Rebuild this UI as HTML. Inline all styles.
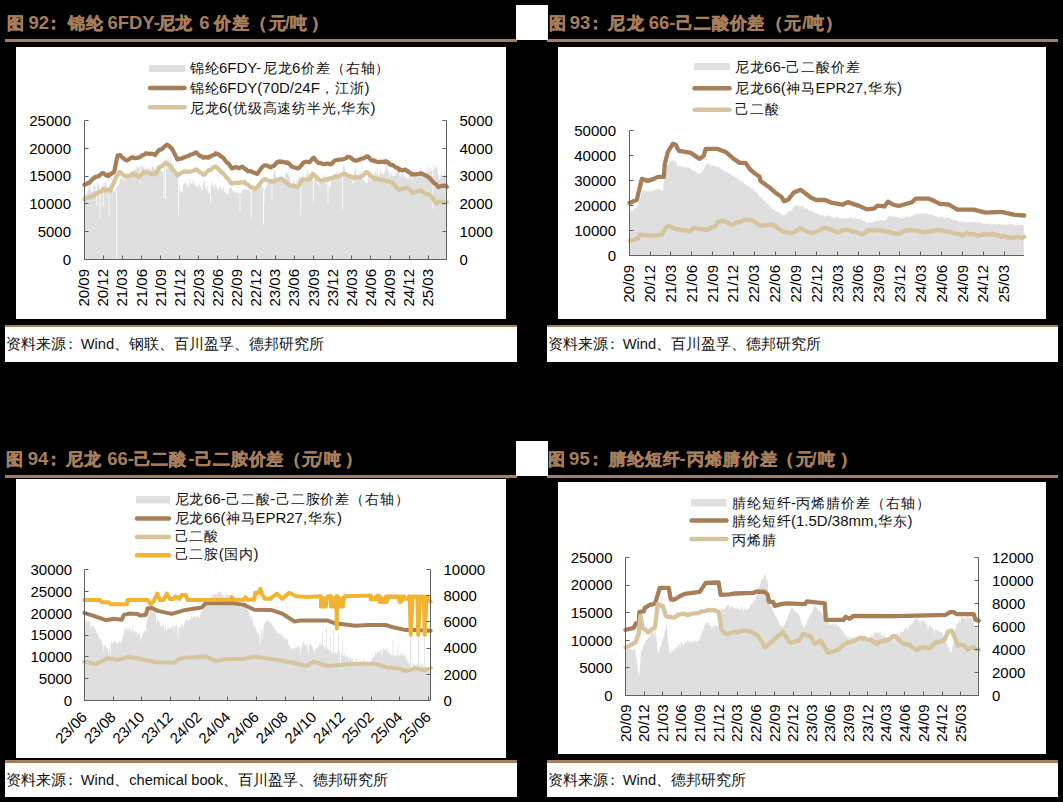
<!DOCTYPE html>
<html><head><meta charset="utf-8">
<style>
html,body{margin:0;padding:0;}
body{width:1063px;height:802px;background:#000;position:relative;overflow:hidden;font-family:"Liberation Sans",sans-serif;}
.w{position:absolute;background:#fff;}
.ul{position:absolute;background:#a77e5b;height:3px;}
.src{position:absolute;background:#fff;border-top:2px solid #a77e5b;box-sizing:border-box;}
svg{position:absolute;left:0;top:0;}
.ax{font-size:15px;fill:#000;font-family:"Liberation Sans",sans-serif;}
.lg{font-size:15px;fill:#111;font-family:"Liberation Sans",sans-serif;}
.lg .c{font-size:14px;}
.ttl{font-size:18.5px;font-weight:bold;fill:#a77e5b;font-family:"Liberation Sans",sans-serif;}
.ttl .c{font-size:17px;stroke:#a77e5b;stroke-width:0.5px;}
.srt{font-size:14.7px;fill:#111;font-family:"Liberation Sans",sans-serif;}
.srt .c{font-size:15px;}
</style></head><body>
<div class="ul" style="left:5px;top:39px;width:512px"></div>
<div class="ul" style="left:547px;top:39px;width:511px"></div>
<div class="ul" style="left:5px;top:475px;width:512px"></div>
<div class="ul" style="left:547px;top:475px;width:511px"></div>
<div class="w" style="left:516px;top:5px;width:32px;height:35px"></div>
<div class="w" style="left:516px;top:441px;width:32px;height:35px"></div>
<div class="w" style="left:16px;top:47px;width:490px;height:272px"></div>
<div class="w" style="left:558px;top:47px;width:488px;height:272px"></div>
<div class="w" style="left:16px;top:479px;width:490px;height:279px"></div>
<div class="w" style="left:558px;top:482px;width:488px;height:272px"></div>
<div class="src" style="left:5px;top:325px;width:512px;height:37px;border-top-width:2px"></div>
<div class="src" style="left:547px;top:325px;width:511px;height:37px;border-top-width:2px"></div>
<div class="src" style="left:5px;top:760px;width:512px;height:37px;border-top-width:3px"></div>
<div class="src" style="left:547px;top:760px;width:511px;height:37px;border-top-width:3px"></div>
<svg width="1063" height="802" viewBox="0 0 1063 802">
<polygon points="84.4,259.5 84.4,192.6 85.2,192.6 85.2,195.6 86.0,195.6 86.0,196.7 86.8,196.7 86.8,191.2 87.6,191.2 87.6,190.6 88.4,190.6 88.4,187.4 89.2,187.4 89.2,185.4 90.0,185.4 90.0,188.3 90.8,188.3 90.8,191.4 91.6,191.4 91.6,191.3 92.4,191.3 92.4,191.1 93.2,191.1 93.2,186.1 94.0,186.1 94.0,184.0 94.8,184.0 94.8,186.6 95.6,186.6 95.6,190.2 96.4,190.2 96.4,205.4 97.2,205.4 97.2,183.1 98.0,183.1 98.0,186.0 98.8,186.0 98.8,184.3 99.6,184.3 99.6,218.7 100.4,218.7 100.4,186.5 101.2,186.5 101.2,189.9 102.0,189.9 102.0,185.3 102.8,185.3 102.8,207.4 103.6,207.4 103.6,182.8 104.4,182.8 104.4,185.8 105.2,185.8 105.2,181.8 106.0,181.8 106.0,183.0 106.8,183.0 106.8,189.9 107.6,189.9 107.6,187.9 108.4,187.9 108.4,187.4 109.2,187.4 109.2,188.2 110.0,188.2 110.0,188.9 110.8,188.9 110.8,187.7 111.6,187.7 111.6,193.2 112.4,193.2 112.4,190.0 113.2,190.0 113.2,190.9 114.0,190.9 114.0,191.5 114.8,191.5 114.8,188.4 115.6,188.4 115.6,188.8 116.4,188.8 116.4,187.3 117.2,187.3 117.2,186.5 118.0,186.5 118.0,184.9 118.8,184.9 118.8,183.9 119.6,183.9 119.6,179.5 120.4,179.5 120.4,176.6 121.2,176.6 121.2,178.5 122.0,178.5 122.0,178.0 122.8,178.0 122.8,179.2 123.6,179.2 123.6,179.5 124.4,179.5 124.4,180.0 125.2,180.0 125.2,178.3 126.0,178.3 126.0,176.8 126.8,176.8 126.8,175.3 127.6,175.3 127.6,174.2 128.4,174.2 128.4,173.7 129.2,173.7 129.2,175.9 130.0,175.9 130.0,171.8 130.8,171.8 130.8,170.5 131.6,170.5 131.6,170.5 132.4,170.5 132.4,171.1 133.2,171.1 133.2,169.5 134.0,169.5 134.0,170.6 134.8,170.6 134.8,170.0 135.6,170.0 135.6,169.0 136.4,169.0 136.4,166.6 137.2,166.6 137.2,166.9 138.0,166.9 138.0,167.8 138.8,167.8 138.8,166.5 139.6,166.5 139.6,183.4 140.4,183.4 140.4,166.0 141.2,166.0 141.2,163.7 142.0,163.7 142.0,166.9 142.8,166.9 142.8,167.5 143.6,167.5 143.6,165.8 144.4,165.8 144.4,169.3 145.2,169.3 145.2,169.5 146.0,169.5 146.0,167.6 146.8,167.6 146.8,168.9 147.6,168.9 147.6,167.8 148.4,167.8 148.4,169.9 149.2,169.9 149.2,167.8 150.0,167.8 150.0,168.9 150.8,168.9 150.8,169.4 151.6,169.4 151.6,166.4 152.4,166.4 152.4,166.1 153.2,166.1 153.2,167.3 154.0,167.3 154.0,168.6 154.8,168.6 154.8,170.5 155.6,170.5 155.6,173.4 156.4,173.4 156.4,172.2 157.2,172.2 157.2,171.9 158.0,171.9 158.0,172.2 158.8,172.2 158.8,170.6 159.6,170.6 159.6,169.4 160.4,169.4 160.4,169.2 161.2,169.2 161.2,171.2 162.0,171.2 162.0,171.9 162.8,171.9 162.8,170.8 163.6,170.8 163.6,198.5 164.4,198.5 164.4,162.6 165.2,162.6 165.2,199.0 166.0,199.0 166.0,166.5 166.8,166.5 166.8,169.4 167.6,169.4 167.6,157.5 168.4,157.5 168.4,160.0 169.2,160.0 169.2,163.2 170.0,163.2 170.0,155.8 170.8,155.8 170.8,163.2 171.6,163.2 171.6,169.4 172.4,169.4 172.4,164.0 173.2,164.0 173.2,170.4 174.0,170.4 174.0,174.4 174.8,174.4 174.8,175.9 175.6,175.9 175.6,177.3 176.4,177.3 176.4,174.6 177.2,174.6 177.2,177.1 178.0,177.1 178.0,215.2 178.8,215.2 178.8,185.9 179.6,185.9 179.6,192.3 180.4,192.3 180.4,189.1 181.2,189.1 181.2,193.1 182.0,193.1 182.0,191.2 182.8,191.2 182.8,185.6 183.6,185.6 183.6,183.3 184.4,183.3 184.4,183.0 185.2,183.0 185.2,182.0 186.0,182.0 186.0,184.2 186.8,184.2 186.8,186.3 187.6,186.3 187.6,184.0 188.4,184.0 188.4,186.4 189.2,186.4 189.2,183.0 190.0,183.0 190.0,180.2 190.8,180.2 190.8,184.3 191.6,184.3 191.6,183.0 192.4,183.0 192.4,183.9 193.2,183.9 193.2,180.4 194.0,180.4 194.0,185.5 194.8,185.5 194.8,183.1 195.6,183.1 195.6,186.2 196.4,186.2 196.4,186.0 197.2,186.0 197.2,188.5 198.0,188.5 198.0,184.8 198.8,184.8 198.8,183.4 199.6,183.4 199.6,186.0 200.4,186.0 200.4,186.6 201.2,186.6 201.2,189.7 202.0,189.7 202.0,190.0 202.8,190.0 202.8,183.7 203.6,183.7 203.6,180.6 204.4,180.6 204.4,183.1 205.2,183.1 205.2,187.7 206.0,187.7 206.0,188.9 206.8,188.9 206.8,185.2 207.6,185.2 207.6,191.3 208.4,191.3 208.4,193.3 209.2,193.3 209.2,193.8 210.0,193.8 210.0,204.3 210.8,204.3 210.8,185.4 211.6,185.4 211.6,181.0 212.4,181.0 212.4,185.8 213.2,185.8 213.2,186.9 214.0,186.9 214.0,189.4 214.8,189.4 214.8,183.6 215.6,183.6 215.6,185.0 216.4,185.0 216.4,187.4 217.2,187.4 217.2,189.2 218.0,189.2 218.0,190.9 218.8,190.9 218.8,187.3 219.6,187.3 219.6,186.2 220.4,186.2 220.4,187.7 221.2,187.7 221.2,190.3 222.0,190.3 222.0,189.2 222.8,189.2 222.8,186.4 223.6,186.4 223.6,191.4 224.4,191.4 224.4,192.2 225.2,192.2 225.2,192.3 226.0,192.3 226.0,194.6 226.8,194.6 226.8,193.5 227.6,193.5 227.6,194.7 228.4,194.7 228.4,192.2 229.2,192.2 229.2,187.8 230.0,187.8 230.0,187.2 230.8,187.2 230.8,187.3 231.6,187.3 231.6,189.6 232.4,189.6 232.4,190.7 233.2,190.7 233.2,192.0 234.0,192.0 234.0,191.6 234.8,191.6 234.8,193.6 235.6,193.6 235.6,192.8 236.4,192.8 236.4,191.6 237.2,191.6 237.2,192.7 238.0,192.7 238.0,193.4 238.8,193.4 238.8,193.6 239.6,193.6 239.6,193.5 240.4,193.5 240.4,192.7 241.2,192.7 241.2,193.4 242.0,193.4 242.0,189.2 242.8,189.2 242.8,190.6 243.6,190.6 243.6,189.0 244.4,189.0 244.4,190.0 245.2,190.0 245.2,188.6 246.0,188.6 246.0,190.0 246.8,190.0 246.8,189.5 247.6,189.5 247.6,189.4 248.4,189.4 248.4,190.5 249.2,190.5 249.2,189.6 250.0,189.6 250.0,191.4 250.8,191.4 250.8,218.9 251.6,218.9 251.6,189.4 252.4,189.4 252.4,188.9 253.2,188.9 253.2,187.9 254.0,187.9 254.0,189.4 254.8,189.4 254.8,186.7 255.6,186.7 255.6,185.8 256.4,185.8 256.4,187.0 257.2,187.0 257.2,188.0 258.0,188.0 258.0,184.6 258.8,184.6 258.8,183.5 259.6,183.5 259.6,183.3 260.4,183.3 260.4,183.9 261.2,183.9 261.2,185.2 262.0,185.2 262.0,188.1 262.8,188.1 262.8,187.5 263.6,187.5 263.6,203.8 264.4,203.8 264.4,189.7 265.2,189.7 265.2,189.0 266.0,189.0 266.0,186.4 266.8,186.4 266.8,185.5 267.6,185.5 267.6,182.4 268.4,182.4 268.4,178.8 269.2,178.8 269.2,180.7 270.0,180.7 270.0,180.1 270.8,180.1 270.8,181.1 271.6,181.1 271.6,199.4 272.4,199.4 272.4,179.2 273.2,179.2 273.2,174.5 274.0,174.5 274.0,169.3 274.8,169.3 274.8,171.3 275.6,171.3 275.6,175.2 276.4,175.2 276.4,177.6 277.2,177.6 277.2,178.9 278.0,178.9 278.0,180.1 278.8,180.1 278.8,179.4 279.6,179.4 279.6,179.5 280.4,179.5 280.4,179.6 281.2,179.6 281.2,179.4 282.0,179.4 282.0,176.4 282.8,176.4 282.8,176.1 283.6,176.1 283.6,178.5 284.4,178.5 284.4,177.8 285.2,177.8 285.2,173.5 286.0,173.5 286.0,171.0 286.8,171.0 286.8,173.6 287.6,173.6 287.6,171.5 288.4,171.5 288.4,176.4 289.2,176.4 289.2,175.5 290.0,175.5 290.0,181.3 290.8,181.3 290.8,184.1 291.6,184.1 291.6,185.2 292.4,185.2 292.4,183.4 293.2,183.4 293.2,179.8 294.0,179.8 294.0,180.8 294.8,180.8 294.8,183.6 295.6,183.6 295.6,186.4 296.4,186.4 296.4,179.5 297.2,179.5 297.2,182.5 298.0,182.5 298.0,179.3 298.8,179.3 298.8,176.6 299.6,176.6 299.6,176.3 300.4,176.3 300.4,215.0 301.2,215.0 301.2,183.4 302.0,183.4 302.0,176.0 302.8,176.0 302.8,177.2 303.6,177.2 303.6,179.0 304.4,179.0 304.4,183.1 305.2,183.1 305.2,181.1 306.0,181.1 306.0,174.9 306.8,174.9 306.8,169.7 307.6,169.7 307.6,172.1 308.4,172.1 308.4,173.9 309.2,173.9 309.2,173.4 310.0,173.4 310.0,175.5 310.8,175.5 310.8,179.5 311.6,179.5 311.6,180.3 312.4,180.3 312.4,179.6 313.2,179.6 313.2,202.8 314.0,202.8 314.0,179.1 314.8,179.1 314.8,178.7 315.6,178.7 315.6,178.0 316.4,178.0 316.4,182.3 317.2,182.3 317.2,184.6 318.0,184.6 318.0,183.0 318.8,183.0 318.8,186.8 319.6,186.8 319.6,182.3 320.4,182.3 320.4,180.7 321.2,180.7 321.2,180.3 322.0,180.3 322.0,180.1 322.8,180.1 322.8,179.4 323.6,179.4 323.6,175.4 324.4,175.4 324.4,178.5 325.2,178.5 325.2,178.8 326.0,178.8 326.0,184.5 326.8,184.5 326.8,181.2 327.6,181.2 327.6,205.7 328.4,205.7 328.4,184.8 329.2,184.8 329.2,188.2 330.0,188.2 330.0,186.2 330.8,186.2 330.8,179.4 331.6,179.4 331.6,178.1 332.4,178.1 332.4,178.6 333.2,178.6 333.2,175.9 334.0,175.9 334.0,177.6 334.8,177.6 334.8,176.5 335.6,176.5 335.6,172.3 336.4,172.3 336.4,171.3 337.2,171.3 337.2,174.5 338.0,174.5 338.0,175.8 338.8,175.8 338.8,172.0 339.6,172.0 339.6,174.1 340.4,174.1 340.4,172.3 341.2,172.3 341.2,173.9 342.0,173.9 342.0,210.3 342.8,210.3 342.8,165.2 343.6,165.2 343.6,165.3 344.4,165.3 344.4,167.9 345.2,167.9 345.2,176.0 346.0,176.0 346.0,176.5 346.8,176.5 346.8,172.6 347.6,172.6 347.6,173.7 348.4,173.7 348.4,177.2 349.2,177.2 349.2,176.8 350.0,176.8 350.0,175.5 350.8,175.5 350.8,176.9 351.6,176.9 351.6,177.4 352.4,177.4 352.4,184.4 353.2,184.4 353.2,182.8 354.0,182.8 354.0,172.4 354.8,172.4 354.8,169.2 355.6,169.2 355.6,169.4 356.4,169.4 356.4,174.7 357.2,174.7 357.2,177.7 358.0,177.7 358.0,177.2 358.8,177.2 358.8,171.4 359.6,171.4 359.6,174.1 360.4,174.1 360.4,171.0 361.2,171.0 361.2,176.0 362.0,176.0 362.0,179.5 362.8,179.5 362.8,180.6 363.6,180.6 363.6,179.6 364.4,179.6 364.4,181.5 365.2,181.5 365.2,182.4 366.0,182.4 366.0,183.3 366.8,183.3 366.8,182.9 367.6,182.9 367.6,178.7 368.4,178.7 368.4,174.7 369.2,174.7 369.2,179.0 370.0,179.0 370.0,181.1 370.8,181.1 370.8,177.9 371.6,177.9 371.6,176.2 372.4,176.2 372.4,172.1 373.2,172.1 373.2,176.6 374.0,176.6 374.0,178.2 374.8,178.2 374.8,172.3 375.6,172.3 375.6,170.6 376.4,170.6 376.4,174.2 377.2,174.2 377.2,170.1 378.0,170.1 378.0,175.7 378.8,175.7 378.8,175.6 379.6,175.6 379.6,171.3 380.4,171.3 380.4,170.2 381.2,170.2 381.2,172.8 382.0,172.8 382.0,173.6 382.8,173.6 382.8,174.9 383.6,174.9 383.6,174.5 384.4,174.5 384.4,171.3 385.2,171.3 385.2,169.1 386.0,169.1 386.0,165.1 386.8,165.1 386.8,163.6 387.6,163.6 387.6,169.1 388.4,169.1 388.4,172.6 389.2,172.6 389.2,177.4 390.0,177.4 390.0,173.7 390.8,173.7 390.8,172.4 391.6,172.4 391.6,175.9 392.4,175.9 392.4,175.6 393.2,175.6 393.2,175.9 394.0,175.9 394.0,175.7 394.8,175.7 394.8,171.8 395.6,171.8 395.6,175.6 396.4,175.6 396.4,167.2 397.2,167.2 397.2,173.4 398.0,173.4 398.0,168.3 398.8,168.3 398.8,169.1 399.6,169.1 399.6,176.6 400.4,176.6 400.4,176.7 401.2,176.7 401.2,174.7 402.0,174.7 402.0,173.2 402.8,173.2 402.8,174.6 403.6,174.6 403.6,176.0 404.4,176.0 404.4,177.5 405.2,177.5 405.2,176.2 406.0,176.2 406.0,178.7 406.8,178.7 406.8,177.4 407.6,177.4 407.6,180.4 408.4,180.4 408.4,177.6 409.2,177.6 409.2,174.1 410.0,174.1 410.0,176.4 410.8,176.4 410.8,178.3 411.6,178.3 411.6,179.8 412.4,179.8 412.4,176.9 413.2,176.9 413.2,172.9 414.0,172.9 414.0,174.7 414.8,174.7 414.8,175.7 415.6,175.7 415.6,175.9 416.4,175.9 416.4,175.4 417.2,175.4 417.2,176.1 418.0,176.1 418.0,172.2 418.8,172.2 418.8,169.4 419.6,169.4 419.6,171.1 420.4,171.1 420.4,170.0 421.2,170.0 421.2,171.0 422.0,171.0 422.0,172.0 422.8,172.0 422.8,173.8 423.6,173.8 423.6,171.6 424.4,171.6 424.4,173.5 425.2,173.5 425.2,172.9 426.0,172.9 426.0,174.6 426.8,174.6 426.8,171.2 427.6,171.2 427.6,171.1 428.4,171.1 428.4,166.1 429.2,166.1 429.2,171.7 430.0,171.7 430.0,168.6 430.8,168.6 430.8,169.4 431.6,169.4 431.6,169.5 432.4,169.5 432.4,209.0 433.2,209.0 433.2,166.3 434.0,166.3 434.0,170.0 434.8,170.0 434.8,167.3 435.6,167.3 435.6,165.0 436.4,165.0 436.4,168.3 437.2,168.3 437.2,171.1 438.0,171.1 438.0,174.9 438.8,174.9 438.8,179.5 439.6,179.5 439.6,178.6 440.4,178.6 440.4,174.8 441.2,174.8 441.2,171.2 442.0,171.2 442.0,177.0 442.8,177.0 442.8,175.3 443.6,175.3 443.6,170.7 444.4,170.7 444.4,174.5 445.2,174.5 445.2,175.2 446.0,175.2 446.0,181.2 446.8,181.2 446.8,259.5" fill="#dfdfdf"/>
<path d="M116.5,190 V259 M263.5,190 V225 M109,195 V215 M240,195 V212" stroke="#fff" stroke-width="1" opacity="0.8"/>
<polyline points="84.5,184.5 84.5,185.0 86.0,184.2 87.5,183.2 88.9,182.7 89.0,183.0 90.5,181.6 92.0,179.6 93.5,178.2 94.3,178.3 95.0,177.1 96.5,176.7 98.0,176.4 99.5,175.6 101.0,174.1 101.4,173.8 102.5,173.0 104.0,173.4 105.5,174.9 107.0,175.8 108.5,176.2 108.6,174.7 110.0,174.8 111.5,173.4 113.0,173.0 114.0,172.0 114.5,170.3 116.0,162.9 117.5,155.9 117.5,155.6 119.0,155.2 120.2,155.0 120.5,155.4 122.0,156.9 123.5,158.4 125.0,159.7 126.5,160.4 126.5,160.5 128.0,159.8 129.5,159.0 131.0,157.6 131.8,157.7 132.5,157.2 134.0,158.0 135.5,158.1 137.0,157.8 138.5,157.7 139.0,157.7 140.0,156.9 141.5,155.9 143.0,155.0 144.5,154.4 146.0,153.7 146.1,153.2 147.5,153.7 149.0,153.9 150.5,153.8 152.0,153.7 153.5,154.0 155.0,155.0 155.0,154.7 156.5,153.2 158.0,151.3 159.5,149.7 159.5,149.8 161.0,149.6 162.5,148.5 164.0,146.9 165.5,145.8 166.7,145.2 167.0,144.7 168.5,145.5 170.0,147.0 171.2,147.9 171.5,148.2 173.0,150.7 174.5,153.5 176.0,156.6 177.4,159.5 177.5,159.0 179.0,158.7 180.5,158.8 182.0,158.5 182.8,157.7 183.5,157.7 185.0,157.1 186.5,156.5 188.0,155.9 189.0,155.9 189.5,155.1 191.0,154.5 192.5,154.2 194.0,153.5 195.5,152.6 196.2,152.3 197.0,153.1 198.5,154.7 200.0,155.9 201.5,156.4 203.0,157.3 203.3,157.7 204.5,157.3 206.0,157.2 207.5,157.6 208.7,156.8 209.0,157.5 210.5,156.4 212.0,155.4 213.5,154.9 215.0,154.4 215.8,153.2 216.5,154.0 218.0,154.2 219.5,154.9 221.0,156.4 222.5,157.3 223.0,157.7 224.0,158.6 225.5,161.0 227.0,162.5 228.5,163.7 230.0,165.6 231.5,167.9 232.0,168.4 233.0,168.2 234.5,167.3 236.0,167.1 237.3,167.5 237.5,167.7 239.0,168.2 240.5,167.3 242.0,166.6 243.5,167.5 245.0,169.0 246.2,169.3 246.5,170.2 248.0,171.1 249.5,171.1 251.0,171.2 252.5,172.1 254.0,172.7 255.5,173.1 257.0,173.8 257.0,174.0 258.5,172.4 260.0,170.0 261.5,167.9 263.0,166.6 264.0,165.7 264.5,165.5 266.0,165.4 267.5,165.7 269.0,166.6 270.5,167.4 270.7,166.6 272.0,166.7 273.5,166.0 275.0,164.8 276.5,162.8 278.0,161.7 279.5,161.4 279.7,162.2 281.0,161.4 282.5,161.9 284.0,162.3 285.5,162.3 286.8,163.1 287.0,162.3 288.5,163.0 290.0,164.6 291.5,166.4 292.2,166.6 293.0,167.0 294.5,167.5 296.0,168.0 297.5,168.2 298.4,168.4 299.0,167.9 300.5,166.3 302.0,164.4 302.9,163.1 303.5,162.6 305.0,161.8 306.5,161.7 308.0,162.0 309.2,162.2 309.5,162.0 311.0,160.3 312.5,158.6 313.6,157.7 314.0,158.2 315.5,159.9 317.0,161.4 318.5,162.9 319.0,163.1 320.0,162.9 321.5,163.2 323.0,164.1 324.3,164.0 324.5,164.2 326.0,163.7 327.5,163.6 329.0,163.8 330.5,164.3 331.5,164.0 332.0,163.8 333.5,161.8 335.0,160.4 335.0,160.3 336.5,160.1 338.0,159.9 339.5,159.7 341.0,159.5 342.2,159.5 342.5,159.5 344.0,159.0 345.5,158.4 347.0,157.6 347.6,156.8 348.5,157.0 350.0,157.2 351.5,158.3 353.0,159.5 354.5,160.5 354.7,160.4 356.0,160.6 357.5,160.4 359.0,159.8 360.1,159.5 360.5,159.0 362.0,158.5 363.5,158.4 365.0,157.5 366.5,156.3 367.2,156.8 368.0,156.5 369.5,158.2 371.0,160.0 372.5,160.4 374.0,160.4 374.4,161.3 375.5,161.0 377.0,161.8 378.5,162.1 380.0,161.9 381.5,161.8 383.0,161.9 384.5,161.5 385.1,162.2 386.0,161.2 387.5,162.1 389.0,163.4 390.5,164.7 392.0,165.2 392.3,164.9 393.5,165.6 395.0,166.8 396.5,167.8 398.0,168.1 399.4,170.2 399.5,168.9 401.0,169.9 402.5,170.5 404.0,169.9 405.5,169.6 406.6,171.1 407.0,170.6 408.5,171.9 410.0,172.8 411.5,173.8 411.9,174.7 413.0,174.1 414.5,174.4 416.0,174.3 417.5,174.0 419.0,174.0 420.5,173.5 420.9,173.8 422.0,173.6 423.5,174.6 425.0,175.2 426.5,175.6 428.0,176.8 429.5,178.1 429.8,178.3 431.0,179.5 432.5,181.6 434.0,183.1 435.5,183.8 437.0,185.4 438.5,187.1 438.7,186.3 440.0,186.5 441.5,185.9 443.0,185.9 444.5,185.6 446.0,185.8 446.8,186.8" fill="none" stroke="#a67f58" stroke-width="4.2" stroke-linejoin="round" stroke-linecap="round"/>
<polyline points="84.5,199.7 84.5,198.8 86.0,197.9 87.5,197.4 89.0,197.4 90.5,197.2 92.0,196.1 92.5,196.1 93.5,195.8 95.0,195.1 96.5,193.4 98.0,192.2 99.5,191.8 101.0,191.6 102.5,190.9 103.2,189.0 104.0,190.4 105.5,190.4 107.0,189.9 108.5,189.4 110.0,189.5 110.4,190.8 111.5,187.2 113.0,184.3 114.5,180.8 115.7,178.3 116.0,177.4 117.5,175.2 119.0,172.5 119.3,172.0 120.5,172.3 122.0,173.7 123.5,175.4 125.0,175.9 126.5,176.5 126.5,175.9 128.0,175.7 129.5,175.8 131.0,175.2 132.5,174.9 133.6,173.8 134.0,174.5 135.5,174.6 137.0,176.1 138.5,177.0 139.0,177.4 140.0,175.7 141.5,174.5 143.0,173.5 144.3,172.0 144.5,172.4 146.0,172.3 147.5,172.3 149.0,173.1 150.5,173.9 152.0,174.0 153.5,174.1 155.0,172.9 155.0,174.4 156.5,172.2 158.0,169.4 158.6,167.5 159.5,167.6 161.0,166.6 162.5,165.7 164.0,164.3 165.5,162.6 165.8,163.1 167.0,163.7 168.5,165.0 170.0,165.4 171.2,167.5 171.5,167.1 173.0,170.0 174.5,171.6 176.0,173.4 177.4,175.6 177.5,175.5 179.0,174.4 180.5,173.2 182.0,172.4 183.5,171.7 183.7,172.0 185.0,171.4 186.5,171.7 188.0,171.9 189.5,171.6 191.0,171.4 192.5,171.0 194.0,170.4 195.5,169.8 196.2,169.3 197.0,170.0 198.5,171.2 200.0,172.2 201.5,173.1 203.0,174.7 203.3,174.7 204.5,174.4 206.0,173.1 207.5,171.2 209.0,170.0 210.5,170.1 212.0,168.9 213.5,167.2 215.0,166.8 215.8,166.6 216.5,167.2 218.0,168.7 219.5,170.2 221.0,171.7 222.5,172.9 223.0,172.9 224.0,174.3 225.5,176.3 227.0,178.0 228.5,179.4 230.0,181.6 231.5,183.5 232.0,183.6 233.0,183.4 234.5,183.0 236.0,182.8 237.5,182.9 239.0,182.9 240.5,182.4 242.0,182.5 243.5,182.7 244.4,181.8 245.0,183.1 246.5,184.0 248.0,184.7 249.5,186.1 251.0,187.5 252.5,187.7 254.0,188.1 255.2,189.0 255.5,188.8 257.0,187.3 258.5,185.4 260.0,183.4 261.5,181.5 263.0,179.9 264.0,180.0 264.5,179.1 266.0,179.6 267.5,180.4 269.0,181.2 270.5,181.1 272.0,181.1 272.5,181.8 273.5,181.4 275.0,180.9 276.5,180.1 278.0,179.7 279.5,179.2 281.0,178.6 281.4,179.2 282.5,179.7 284.0,181.1 285.5,182.0 287.0,183.0 288.5,184.7 288.6,184.5 290.0,185.6 291.5,185.6 293.0,185.5 294.5,186.1 296.0,186.7 297.5,186.3 297.5,187.1 299.0,185.0 300.5,182.4 302.0,180.2 302.9,179.2 303.5,179.2 305.0,179.7 306.5,180.0 308.0,179.4 309.5,179.5 310.0,179.2 311.0,178.0 312.5,174.3 312.7,173.8 314.0,174.9 315.5,176.3 317.0,177.6 318.5,179.8 319.0,180.0 320.0,180.6 321.5,180.2 323.0,180.0 324.5,179.5 326.0,179.2 327.5,179.4 327.9,180.0 329.0,178.7 330.5,178.1 332.0,178.2 333.5,177.5 335.0,176.5 335.0,176.6 336.5,176.8 338.0,176.8 339.5,175.7 341.0,174.9 342.5,174.4 344.0,173.7 344.9,173.8 345.5,173.8 347.0,175.1 348.5,176.0 350.0,176.2 351.5,176.7 353.0,177.4 353.8,178.3 354.5,177.5 356.0,177.1 357.5,177.1 359.0,177.5 360.1,177.4 360.5,177.1 362.0,176.1 363.5,175.2 365.0,173.4 366.3,172.0 366.5,172.0 368.0,172.9 369.5,174.4 371.0,176.3 372.5,177.2 374.0,177.8 374.4,179.2 375.5,178.4 377.0,179.0 378.5,179.4 380.0,179.9 381.5,180.0 383.0,179.9 383.3,180.0 384.5,180.4 386.0,181.1 387.5,181.2 389.0,181.4 390.5,182.0 392.0,182.5 392.3,182.7 393.5,183.9 395.0,185.7 396.5,187.5 398.0,189.0 399.4,189.9 399.5,189.9 401.0,189.2 402.5,188.9 404.0,188.7 405.5,188.0 406.6,188.1 407.0,187.8 408.5,188.7 410.0,189.7 411.5,191.5 413.0,193.1 413.7,192.6 414.5,192.7 416.0,191.8 417.5,191.2 419.0,190.6 420.5,190.5 420.9,189.9 422.0,191.4 423.5,192.3 425.0,193.4 426.5,194.1 428.0,194.2 429.5,195.0 431.0,196.0 431.6,197.0 432.5,197.7 434.0,200.2 435.5,202.1 437.0,203.3 437.0,203.4 438.5,202.3 440.0,201.6 440.5,201.5 441.5,202.0 443.0,202.8 444.5,202.6 446.0,202.4 446.8,202.4" fill="none" stroke="#d5c49c" stroke-width="4.2" stroke-linejoin="round" stroke-linecap="round"/>
<path d="M84.5,120.5 V259.5 H446.5 V120.5" fill="none" stroke="#606060" stroke-width="1"/>
<path d="M84.5,120.5 h4 M84.5,148.5 h4 M84.5,176.5 h4 M84.5,203.5 h4 M84.5,231.5 h4 M84.5,259.5 h4 M446.5,120.5 h-4 M446.5,148.5 h-4 M446.5,176.5 h-4 M446.5,203.5 h-4 M446.5,231.5 h-4 M446.5,259.5 h-4 M84.5,259.5 v-4 M103.5,259.5 v-4 M122.5,259.5 v-4 M141.5,259.5 v-4 M160.5,259.5 v-4 M179.5,259.5 v-4 M198.5,259.5 v-4 M217.5,259.5 v-4 M237.5,259.5 v-4 M256.5,259.5 v-4 M275.5,259.5 v-4 M294.5,259.5 v-4 M313.5,259.5 v-4 M332.5,259.5 v-4 M351.5,259.5 v-4 M370.5,259.5 v-4 M390.5,259.5 v-4 M409.5,259.5 v-4 M428.5,259.5 v-4 " stroke="#606060" stroke-width="1" fill="none"/>
<text x="71" y="125.8" text-anchor="end" class="ax">25000</text>
<text x="71" y="153.6" text-anchor="end" class="ax">20000</text>
<text x="71" y="181.4" text-anchor="end" class="ax">15000</text>
<text x="71" y="209.2" text-anchor="end" class="ax">10000</text>
<text x="71" y="237.0" text-anchor="end" class="ax">5000</text>
<text x="71" y="264.8" text-anchor="end" class="ax">0</text>
<text x="459.5" y="125.8" class="ax">5000</text>
<text x="459.5" y="153.6" class="ax">4000</text>
<text x="459.5" y="181.4" class="ax">3000</text>
<text x="459.5" y="209.2" class="ax">2000</text>
<text x="459.5" y="237.0" class="ax">1000</text>
<text x="459.5" y="264.8" class="ax">0</text>
<text transform="translate(89.1,269) rotate(-90)" text-anchor="end" class="ax">20/09</text>
<text transform="translate(108.2,269) rotate(-90)" text-anchor="end" class="ax">20/12</text>
<text transform="translate(127.3,269) rotate(-90)" text-anchor="end" class="ax">21/03</text>
<text transform="translate(146.5,269) rotate(-90)" text-anchor="end" class="ax">21/06</text>
<text transform="translate(165.6,269) rotate(-90)" text-anchor="end" class="ax">21/09</text>
<text transform="translate(184.7,269) rotate(-90)" text-anchor="end" class="ax">21/12</text>
<text transform="translate(203.8,269) rotate(-90)" text-anchor="end" class="ax">22/03</text>
<text transform="translate(222.9,269) rotate(-90)" text-anchor="end" class="ax">22/06</text>
<text transform="translate(242.1,269) rotate(-90)" text-anchor="end" class="ax">22/09</text>
<text transform="translate(261.2,269) rotate(-90)" text-anchor="end" class="ax">22/12</text>
<text transform="translate(280.3,269) rotate(-90)" text-anchor="end" class="ax">23/03</text>
<text transform="translate(299.4,269) rotate(-90)" text-anchor="end" class="ax">23/06</text>
<text transform="translate(318.5,269) rotate(-90)" text-anchor="end" class="ax">23/09</text>
<text transform="translate(337.7,269) rotate(-90)" text-anchor="end" class="ax">23/12</text>
<text transform="translate(356.8,269) rotate(-90)" text-anchor="end" class="ax">24/03</text>
<text transform="translate(375.9,269) rotate(-90)" text-anchor="end" class="ax">24/06</text>
<text transform="translate(395.0,269) rotate(-90)" text-anchor="end" class="ax">24/09</text>
<text transform="translate(414.1,269) rotate(-90)" text-anchor="end" class="ax">24/12</text>
<text transform="translate(433.3,269) rotate(-90)" text-anchor="end" class="ax">25/03</text>
<rect x="149" y="65" width="36" height="7" fill="#dfdfdf"/>
<path d="M150,88 H184.5" stroke="#a67f58" stroke-width="4.5" stroke-linecap="round"/>
<path d="M150,107.3 H184.5" stroke="#d5c49c" stroke-width="4.5" stroke-linecap="round"/>
<polygon points="629.5,255.5 629.5,212.9 630.2,211.9 630.9,211.4 631.6,209.6 632.3,211.5 633.0,210.5 633.7,209.1 634.4,209.1 635.1,208.2 635.8,207.2 636.5,207.5 637.2,206.1 637.9,205.3 638.6,202.8 639.3,201.3 640.0,198.7 640.7,196.8 641.4,193.9 642.1,192.1 642.8,189.3 643.5,190.5 644.2,190.4 644.9,190.7 645.6,191.0 646.3,190.4 647.0,191.7 647.7,192.7 648.4,190.7 649.1,190.7 649.8,190.6 650.5,191.7 651.2,191.1 651.9,191.4 652.6,191.0 653.3,190.4 654.0,190.2 654.7,189.7 655.4,190.1 656.1,188.7 656.8,188.9 657.5,189.0 658.2,190.0 658.9,188.7 659.6,188.8 660.3,189.4 661.0,190.5 661.7,190.1 662.4,191.2 663.1,189.6 663.8,180.0 664.5,168.2 665.2,166.0 665.9,166.2 666.6,166.1 667.3,164.6 668.0,164.4 668.7,164.5 669.4,162.5 670.1,161.6 670.8,160.9 671.5,161.4 672.2,160.6 672.9,160.2 673.6,159.9 674.3,161.0 675.0,161.1 675.7,161.8 676.4,162.3 677.1,165.6 677.8,165.9 678.5,166.9 679.2,166.1 679.9,165.8 680.6,166.7 681.3,166.4 682.0,165.9 682.7,166.2 683.4,167.9 684.1,167.2 684.8,167.3 685.5,167.0 686.2,166.9 686.9,168.0 687.6,167.5 688.3,167.2 689.0,167.7 689.7,167.4 690.4,168.5 691.1,169.6 691.8,168.9 692.5,170.7 693.2,169.9 693.9,170.9 694.6,170.8 695.3,171.7 696.0,172.3 696.7,172.5 697.4,172.9 698.1,173.4 698.8,173.8 699.5,173.8 700.2,174.0 700.9,173.3 701.6,172.5 702.3,171.2 703.0,171.2 703.7,168.8 704.4,167.2 705.1,167.5 705.8,164.7 706.5,164.8 707.2,163.5 707.9,164.4 708.6,163.2 709.3,165.1 710.0,164.7 710.7,164.4 711.4,166.2 712.1,165.8 712.8,165.6 713.5,165.3 714.2,165.9 714.9,166.0 715.6,166.8 716.3,167.0 717.0,166.3 717.7,166.6 718.4,167.0 719.1,166.9 719.8,167.8 720.5,168.5 721.2,169.4 721.9,170.1 722.6,169.3 723.3,170.5 724.0,170.3 724.7,172.2 725.4,171.4 726.1,172.1 726.8,171.6 727.5,172.1 728.2,173.1 728.9,173.2 729.6,174.1 730.3,173.3 731.0,175.1 731.7,174.6 732.4,176.6 733.1,175.8 733.8,177.0 734.5,176.0 735.2,177.5 735.9,177.1 736.6,177.8 737.3,178.5 738.0,178.7 738.7,179.5 739.4,180.2 740.1,180.7 740.8,180.7 741.5,180.5 742.2,181.4 742.9,182.3 743.6,181.6 744.3,183.9 745.0,183.8 745.7,184.3 746.4,185.6 747.1,185.9 747.8,186.2 748.5,185.9 749.2,187.1 749.9,187.6 750.6,187.4 751.3,189.0 752.0,189.1 752.7,188.1 753.4,189.8 754.1,189.7 754.8,191.8 755.5,192.3 756.2,191.9 756.9,192.8 757.6,194.1 758.3,194.6 759.0,196.4 759.7,196.6 760.4,196.7 761.1,197.9 761.8,197.1 762.5,199.2 763.2,200.2 763.9,200.3 764.6,200.6 765.3,202.1 766.0,203.6 766.7,203.3 767.4,203.2 768.1,205.4 768.8,204.1 769.5,206.2 770.2,206.3 770.9,207.9 771.6,207.5 772.3,209.5 773.0,209.6 773.7,209.1 774.4,209.6 775.1,210.9 775.8,212.2 776.5,211.8 777.2,212.0 777.9,212.1 778.6,213.0 779.3,213.1 780.0,213.3 780.7,212.8 781.4,214.4 782.1,214.8 782.8,213.5 783.5,216.0 784.2,215.3 784.9,214.9 785.6,213.4 786.3,214.3 787.0,213.6 787.7,212.3 788.4,210.9 789.1,212.0 789.8,210.4 790.5,209.8 791.2,211.1 791.9,210.1 792.6,208.7 793.3,207.2 794.0,207.3 794.7,204.9 795.4,205.7 796.1,205.2 796.8,205.0 797.5,204.9 798.2,206.2 798.9,206.1 799.6,206.2 800.3,206.7 801.0,205.7 801.7,205.6 802.4,205.3 803.1,206.6 803.8,207.6 804.5,207.5 805.2,208.4 805.9,207.7 806.6,208.5 807.3,208.7 808.0,208.8 808.7,211.1 809.4,210.9 810.1,210.3 810.8,210.7 811.5,211.5 812.2,211.1 812.9,212.6 813.6,211.9 814.3,212.9 815.0,212.9 815.7,213.6 816.4,213.5 817.1,213.5 817.8,214.0 818.5,214.2 819.2,214.6 819.9,214.9 820.6,215.9 821.3,215.6 822.0,215.1 822.7,215.8 823.4,215.1 824.1,216.5 824.8,216.0 825.5,215.0 826.2,216.4 826.9,216.5 827.6,214.6 828.3,215.8 829.0,216.1 829.7,215.4 830.4,216.0 831.1,216.2 831.8,217.2 832.5,217.2 833.2,218.7 833.9,217.0 834.6,218.0 835.3,217.5 836.0,217.7 836.7,217.0 837.4,216.7 838.1,217.4 838.8,218.3 839.5,218.8 840.2,218.3 840.9,218.3 841.6,217.5 842.3,218.9 843.0,218.9 843.7,217.8 844.4,218.1 845.1,217.5 845.8,219.0 846.5,218.4 847.2,218.2 847.9,218.5 848.6,218.5 849.3,218.1 850.0,217.6 850.7,217.6 851.4,217.4 852.1,218.7 852.8,219.8 853.5,217.5 854.2,218.6 854.9,218.8 855.6,218.0 856.3,218.7 857.0,218.0 857.7,219.4 858.4,218.4 859.1,219.1 859.8,219.7 860.5,219.4 861.2,218.8 861.9,219.9 862.6,220.9 863.3,220.7 864.0,221.2 864.7,220.7 865.4,221.7 866.1,222.4 866.8,222.2 867.5,223.6 868.2,222.7 868.9,222.3 869.6,221.8 870.3,223.2 871.0,222.3 871.7,222.7 872.4,222.2 873.1,222.7 873.8,222.3 874.5,221.1 875.2,221.2 875.9,221.5 876.6,219.9 877.3,221.3 878.0,221.1 878.7,221.0 879.4,220.3 880.1,220.6 880.8,219.7 881.5,220.4 882.2,220.0 882.9,220.5 883.6,220.1 884.3,220.6 885.0,221.1 885.7,219.6 886.4,220.6 887.1,217.6 887.8,216.2 888.5,216.2 889.2,215.8 889.9,216.2 890.6,215.0 891.3,216.1 892.0,216.4 892.7,217.2 893.4,216.5 894.1,217.0 894.8,216.2 895.5,216.8 896.2,216.8 896.9,217.6 897.6,216.8 898.3,217.0 899.0,218.0 899.7,218.8 900.4,218.0 901.1,218.0 901.8,217.6 902.5,218.4 903.2,218.1 903.9,218.8 904.6,217.9 905.3,217.0 906.0,217.0 906.7,216.6 907.4,216.2 908.1,217.5 908.8,217.1 909.5,215.6 910.2,217.3 910.9,216.2 911.6,215.2 912.3,215.9 913.0,215.4 913.7,214.8 914.4,213.9 915.1,214.9 915.8,214.8 916.5,212.9 917.2,214.6 917.9,214.5 918.6,213.6 919.3,213.8 920.0,213.4 920.7,212.8 921.4,213.2 922.1,214.3 922.8,212.7 923.5,213.8 924.2,213.8 924.9,213.4 925.6,213.6 926.3,213.2 927.0,213.6 927.7,214.2 928.4,214.5 929.1,213.8 929.8,216.3 930.5,214.2 931.2,214.7 931.9,214.6 932.6,214.6 933.3,215.9 934.0,215.1 934.7,216.4 935.4,216.6 936.1,215.6 936.8,217.1 937.5,216.4 938.2,218.7 938.9,217.1 939.6,217.0 940.3,216.6 941.0,217.0 941.7,217.5 942.4,217.3 943.1,217.2 943.8,217.6 944.5,217.9 945.2,219.0 945.9,217.2 946.6,217.9 947.3,217.7 948.0,217.4 948.7,217.6 949.4,218.0 950.1,219.2 950.8,218.8 951.5,218.8 952.2,219.7 952.9,219.6 953.6,219.5 954.3,220.1 955.0,219.5 955.7,220.6 956.4,220.7 957.1,220.3 957.8,220.0 958.5,221.8 959.2,221.1 959.9,223.1 960.6,221.0 961.3,222.0 962.0,221.3 962.7,221.7 963.4,222.1 964.1,221.2 964.8,221.7 965.5,221.9 966.2,221.9 966.9,222.3 967.6,222.6 968.3,222.5 969.0,222.2 969.7,221.9 970.4,221.5 971.1,221.8 971.8,222.0 972.5,222.8 973.2,222.2 973.9,221.7 974.6,222.9 975.3,222.1 976.0,222.2 976.7,222.6 977.4,223.0 978.1,221.4 978.8,222.2 979.5,223.0 980.2,222.8 980.9,222.6 981.6,222.8 982.3,224.1 983.0,223.0 983.7,223.8 984.4,223.9 985.1,223.2 985.8,223.9 986.5,223.4 987.2,223.4 987.9,223.1 988.6,224.4 989.3,223.7 990.0,223.7 990.7,223.4 991.4,225.3 992.1,224.7 992.8,224.2 993.5,223.9 994.2,223.4 994.9,224.5 995.6,224.5 996.3,223.5 997.0,225.0 997.7,224.8 998.4,223.7 999.1,224.0 999.8,224.0 1000.5,224.4 1001.2,224.2 1001.9,223.3 1002.6,225.2 1003.3,224.5 1004.0,225.1 1004.7,225.1 1005.4,224.2 1006.1,224.5 1006.8,224.7 1007.5,224.8 1008.2,224.3 1008.9,224.1 1009.6,224.5 1010.3,224.1 1011.0,224.3 1011.7,223.5 1012.4,224.8 1013.1,224.2 1013.8,224.6 1014.5,224.9 1015.2,225.2 1015.9,226.2 1016.6,225.3 1017.3,224.4 1018.0,225.3 1018.7,225.0 1019.4,225.6 1020.1,225.1 1020.8,225.1 1021.5,225.3 1022.2,225.3 1022.9,224.6 1023.6,225.4 1023.8,255.5" fill="#dfdfdf"/>
<polyline points="629.5,203.0 636.8,199.8 641.8,178.9 647.8,180.9 653.8,178.9 657.8,176.9 663.8,176.9 664.8,163.9 667.8,151.9 672.8,143.9 675.8,144.9 678.8,150.9 685.7,151.9 690.7,152.9 699.7,158.9 703.7,155.9 705.7,148.9 717.7,148.9 725.7,151.9 733.7,158.9 739.6,162.9 745.6,162.9 749.6,168.9 753.5,172.4 759.6,176.7 760.5,181.1 769.2,187.2 776.2,193.3 781.4,196.8 784.0,201.2 788.4,199.4 793.7,192.5 800.6,189.8 811.1,197.7 816.4,200.0 825.1,200.0 832.1,202.9 842.5,204.7 847.8,202.1 858.3,205.6 867.0,209.4 874.0,208.7 877.5,205.6 884.5,206.4 887.9,201.7 893.2,204.7 898.8,206.0 912.0,202.3 915.7,198.6 928.2,198.6 934.0,200.8 939.9,203.8 948.7,204.5 957.5,209.6 973.7,209.6 985.4,212.6 1001.5,211.8 1014.7,214.8 1024.3,215.5" fill="none" stroke="#a67f58" stroke-width="4.3" stroke-linejoin="round" stroke-linecap="round"/>
<polyline points="629.9,240.7 629.9,240.7 631.4,240.2 632.9,240.1 634.4,239.6 635.9,238.8 637.4,238.4 637.8,238.7 638.9,236.4 639.8,234.7 640.4,234.7 641.9,234.7 643.4,234.9 644.9,235.2 646.4,235.4 647.9,235.5 649.4,235.7 650.9,235.6 652.4,235.5 653.8,235.7 653.9,235.6 655.4,235.4 656.9,235.4 658.4,235.2 659.9,234.8 661.4,234.7 661.8,234.7 662.9,233.0 664.4,230.3 665.8,227.8 665.9,227.6 667.4,226.7 668.8,225.8 668.9,225.9 670.4,226.6 671.9,227.2 673.4,228.0 674.9,228.7 676.4,228.9 677.8,229.4 677.9,229.2 679.4,229.5 680.9,230.1 682.4,230.4 683.9,230.4 685.4,230.4 686.9,230.7 688.4,231.3 689.7,231.4 689.9,231.5 691.4,230.0 692.9,228.5 693.7,227.8 694.4,227.9 695.9,228.2 697.4,228.5 698.9,228.8 700.4,229.0 701.9,229.1 703.4,229.3 704.9,229.5 706.4,229.6 707.7,229.8 707.9,229.4 709.4,228.7 710.9,228.0 712.4,227.2 713.9,226.7 715.4,226.1 715.7,225.8 716.9,223.5 717.7,221.8 718.4,221.6 719.9,221.2 721.4,221.0 722.9,221.0 723.7,220.8 724.4,221.4 725.9,222.2 727.4,222.8 728.9,223.4 730.4,224.1 731.7,224.8 731.9,224.8 733.4,224.1 734.9,223.2 736.4,222.5 737.9,222.1 739.4,221.8 740.9,221.4 742.4,220.8 743.9,220.1 745.4,219.5 745.6,219.4 746.9,219.7 748.4,219.9 749.9,220.1 751.4,220.2 751.6,220.4 752.9,221.0 754.4,221.8 755.9,222.7 757.4,223.7 758.9,224.6 760.4,225.5 760.5,225.6 761.9,225.7 763.4,225.6 764.9,225.5 766.4,225.2 767.9,225.0 769.4,224.8 770.9,224.4 772.4,224.2 772.7,224.8 773.9,225.1 775.4,226.3 776.9,227.5 778.4,228.4 779.9,229.6 781.4,230.8 782.9,231.7 783.2,231.8 784.4,232.1 785.9,232.2 787.4,232.4 788.9,232.7 790.4,233.1 791.9,233.5 791.9,233.5 793.4,232.4 794.9,231.6 796.4,230.8 797.9,229.7 799.4,228.7 800.6,228.3 800.9,228.3 802.4,229.1 803.9,229.8 805.4,230.7 806.9,231.5 808.4,231.9 809.9,232.4 811.1,233.2 811.4,233.0 812.9,232.7 814.4,232.3 815.9,231.7 817.4,231.1 818.9,230.5 820.4,229.5 821.9,228.8 823.4,228.3 824.9,227.7 825.1,227.9 826.4,228.1 827.9,228.8 829.4,229.1 830.9,229.3 832.4,229.9 833.9,230.8 835.4,231.6 836.9,232.4 837.3,231.8 838.4,232.4 839.9,231.6 841.4,230.6 842.9,230.2 844.4,230.1 845.9,229.9 847.4,229.6 847.8,229.7 848.9,229.9 850.4,230.6 851.9,231.3 853.4,231.7 854.9,232.0 856.4,232.2 857.9,232.6 859.4,233.3 860.9,234.2 861.8,234.4 862.4,234.4 863.9,233.5 865.4,232.5 866.9,231.3 868.4,230.2 868.7,230.4 869.9,230.0 871.4,230.3 872.9,230.5 874.4,230.3 875.9,230.1 877.4,230.1 878.9,230.1 879.2,230.0 880.4,230.4 881.9,230.6 883.4,230.9 884.9,231.2 886.4,231.6 887.9,231.8 889.4,231.9 890.9,232.3 892.4,233.1 893.2,233.2 893.9,233.6 895.4,233.6 896.9,233.6 898.4,233.9 898.8,233.8 899.9,233.6 901.4,232.7 902.9,231.8 904.4,231.3 905.9,230.6 906.1,230.2 907.4,230.6 908.9,230.3 910.4,229.8 911.9,230.0 913.4,230.6 914.9,230.7 916.4,230.2 916.4,230.3 917.9,230.8 919.4,231.5 920.9,231.7 922.3,232.4 922.4,232.2 923.9,232.2 925.4,232.0 926.9,231.7 928.4,231.6 929.9,231.6 931.4,231.5 932.9,231.2 934.4,230.7 935.9,230.2 937.4,230.0 938.4,230.2 938.9,230.0 940.4,230.1 941.9,230.5 943.4,231.0 944.9,231.3 946.4,231.4 947.9,231.6 949.4,231.9 950.9,232.3 951.6,232.4 952.4,232.8 953.9,233.3 955.4,233.6 956.9,233.7 958.4,233.9 959.9,234.3 961.4,234.9 962.9,235.1 963.4,235.3 964.4,234.4 965.9,233.5 967.0,232.8 967.4,233.2 968.9,234.0 970.4,234.2 971.9,234.1 973.4,234.2 974.9,234.5 976.4,235.0 976.6,235.3 977.9,235.3 979.4,235.3 980.9,234.9 982.4,234.5 983.9,234.3 985.4,234.4 986.9,234.4 988.4,234.3 989.9,234.2 991.4,234.1 992.7,234.3 992.9,233.8 994.4,234.4 995.9,235.1 997.4,235.1 998.9,235.4 1000.4,236.4 1001.9,236.8 1003.4,236.4 1004.9,236.6 1006.4,237.2 1007.9,237.6 1009.4,237.6 1010.3,237.8 1010.9,237.7 1012.4,237.8 1013.9,237.6 1015.4,237.3 1016.9,237.1 1017.7,237.2 1018.4,237.0 1019.9,237.5 1021.4,238.0 1022.1,238.2 1022.9,237.7 1024.3,236.8" fill="none" stroke="#d5c49c" stroke-width="4.3" stroke-linejoin="round" stroke-linecap="round"/>
<path d="M629.5,130.5 V255.5 H1024" fill="none" stroke="#606060" stroke-width="1"/>
<path d="M629.5,130.5 h4 M629.5,155.5 h4 M629.5,180.5 h4 M629.5,205.5 h4 M629.5,230.5 h4 M629.5,255.5 h4 M629.5,255.5 v-4 M650.5,255.5 v-4 M670.5,255.5 v-4 M691.5,255.5 v-4 M712.5,255.5 v-4 M733.5,255.5 v-4 M754.5,255.5 v-4 M775.5,255.5 v-4 M795.5,255.5 v-4 M816.5,255.5 v-4 M837.5,255.5 v-4 M858.5,255.5 v-4 M879.5,255.5 v-4 M899.5,255.5 v-4 M920.5,255.5 v-4 M941.5,255.5 v-4 M962.5,255.5 v-4 M983.5,255.5 v-4 M1004.5,255.5 v-4 " stroke="#606060" stroke-width="1" fill="none"/>
<text x="616" y="135.8" text-anchor="end" class="ax">50000</text>
<text x="616" y="160.8" text-anchor="end" class="ax">40000</text>
<text x="616" y="185.8" text-anchor="end" class="ax">30000</text>
<text x="616" y="210.8" text-anchor="end" class="ax">20000</text>
<text x="616" y="235.8" text-anchor="end" class="ax">10000</text>
<text x="616" y="260.8" text-anchor="end" class="ax">0</text>
<text transform="translate(634.2,265) rotate(-90)" text-anchor="end" class="ax">20/09</text>
<text transform="translate(655.0,265) rotate(-90)" text-anchor="end" class="ax">20/12</text>
<text transform="translate(675.9,265) rotate(-90)" text-anchor="end" class="ax">21/03</text>
<text transform="translate(696.7,265) rotate(-90)" text-anchor="end" class="ax">21/06</text>
<text transform="translate(717.5,265) rotate(-90)" text-anchor="end" class="ax">21/09</text>
<text transform="translate(738.4,265) rotate(-90)" text-anchor="end" class="ax">21/12</text>
<text transform="translate(759.2,265) rotate(-90)" text-anchor="end" class="ax">22/03</text>
<text transform="translate(780.0,265) rotate(-90)" text-anchor="end" class="ax">22/06</text>
<text transform="translate(800.8,265) rotate(-90)" text-anchor="end" class="ax">22/09</text>
<text transform="translate(821.7,265) rotate(-90)" text-anchor="end" class="ax">22/12</text>
<text transform="translate(842.5,265) rotate(-90)" text-anchor="end" class="ax">23/03</text>
<text transform="translate(863.3,265) rotate(-90)" text-anchor="end" class="ax">23/06</text>
<text transform="translate(884.2,265) rotate(-90)" text-anchor="end" class="ax">23/09</text>
<text transform="translate(905.0,265) rotate(-90)" text-anchor="end" class="ax">23/12</text>
<text transform="translate(925.8,265) rotate(-90)" text-anchor="end" class="ax">24/03</text>
<text transform="translate(946.7,265) rotate(-90)" text-anchor="end" class="ax">24/06</text>
<text transform="translate(967.5,265) rotate(-90)" text-anchor="end" class="ax">24/09</text>
<text transform="translate(988.3,265) rotate(-90)" text-anchor="end" class="ax">24/12</text>
<text transform="translate(1009.1,265) rotate(-90)" text-anchor="end" class="ax">25/03</text>
<rect x="694" y="63" width="36" height="7" fill="#dfdfdf"/>
<path d="M694.5,88.2 H729.5" stroke="#a67f58" stroke-width="4.5" stroke-linecap="round"/>
<path d="M694.5,109.8 H729.5" stroke="#d5c49c" stroke-width="4.5" stroke-linecap="round"/>
<polygon points="84.3,700.5 84.3,624.5 85.0,616.6 85.7,622.3 86.4,620.9 87.1,621.5 87.8,622.3 88.5,619.5 89.2,623.1 89.9,622.3 90.6,630.6 91.3,625.7 92.0,625.4 92.7,626.2 93.4,626.2 94.1,626.2 94.8,628.1 95.5,630.4 96.2,630.2 96.9,633.7 97.6,633.0 98.3,634.8 99.0,639.0 99.7,638.6 100.4,637.7 101.1,639.3 101.8,641.6 102.5,645.1 103.2,654.9 103.9,643.2 104.6,646.5 105.3,644.1 106.0,646.1 106.7,649.2 107.4,648.3 108.1,646.9 108.8,658.4 109.5,640.4 110.2,660.0 110.9,642.6 111.6,640.7 112.3,643.6 113.0,643.7 113.7,641.1 114.4,639.9 115.1,641.8 115.8,641.7 116.5,644.3 117.2,643.1 117.9,642.1 118.6,643.8 119.3,641.4 120.0,640.1 120.7,642.9 121.4,642.8 122.1,640.2 122.8,636.4 123.5,635.4 124.2,627.7 124.9,631.1 125.6,630.8 126.3,627.0 127.0,630.2 127.7,628.4 128.4,631.6 129.1,626.6 129.8,628.7 130.5,631.7 131.2,632.6 131.9,626.7 132.6,629.8 133.3,631.3 134.0,629.9 134.7,634.3 135.4,629.8 136.1,633.0 136.8,631.0 137.5,635.9 138.2,633.8 138.9,633.6 139.6,631.6 140.3,637.5 141.0,643.2 141.7,635.2 142.4,635.5 143.1,633.7 143.8,631.6 144.5,631.0 145.2,630.6 145.9,632.9 146.6,623.2 147.3,620.1 148.0,616.0 148.7,612.3 149.4,612.7 150.1,609.1 150.8,607.9 151.5,610.8 152.2,612.7 152.9,611.6 153.6,610.3 154.3,610.8 155.0,613.6 155.7,614.4 156.4,626.7 157.1,616.9 157.8,620.1 158.5,620.4 159.2,622.3 159.9,622.4 160.6,627.3 161.3,626.1 162.0,626.8 162.7,621.1 163.4,624.9 164.1,625.1 164.8,634.2 165.5,623.5 166.2,630.4 166.9,630.9 167.6,627.4 168.3,627.4 169.0,627.1 169.7,627.9 170.4,628.3 171.1,630.1 171.8,625.3 172.5,626.4 173.2,624.6 173.9,635.2 174.6,625.7 175.3,627.3 176.0,623.4 176.7,625.5 177.4,624.8 178.1,642.5 178.8,628.4 179.5,627.2 180.2,626.4 180.9,627.4 181.6,624.5 182.3,623.4 183.0,625.3 183.7,628.1 184.4,622.6 185.1,621.3 185.8,619.5 186.5,618.5 187.2,621.1 187.9,621.2 188.6,619.5 189.3,619.9 190.0,619.2 190.7,619.1 191.4,615.8 192.1,617.6 192.8,618.4 193.5,616.5 194.2,616.8 194.9,615.9 195.6,616.5 196.3,618.4 197.0,615.9 197.7,616.1 198.4,617.5 199.1,617.0 199.8,618.6 200.5,611.0 201.2,614.8 201.9,610.9 202.6,610.5 203.3,610.2 204.0,609.2 204.7,607.6 205.4,604.5 206.1,606.1 206.8,601.9 207.5,601.2 208.2,602.0 208.9,598.7 209.6,602.7 210.3,599.8 211.0,601.0 211.7,596.1 212.4,594.6 213.1,595.3 213.8,595.9 214.5,593.2 215.2,594.6 215.9,593.6 216.6,596.1 217.3,591.7 218.0,594.7 218.7,591.9 219.4,591.5 220.1,592.2 220.8,591.6 221.5,594.2 222.2,596.1 222.9,594.7 223.6,595.8 224.3,597.8 225.0,595.6 225.7,595.7 226.4,595.1 227.1,592.9 227.8,597.4 228.5,593.3 229.2,598.1 229.9,597.4 230.6,599.9 231.3,598.3 232.0,597.4 232.7,600.1 233.4,598.9 234.1,600.1 234.8,601.0 235.5,601.2 236.2,609.2 236.9,600.9 237.6,602.6 238.3,599.6 239.0,603.6 239.7,602.2 240.4,606.9 241.1,607.7 241.8,602.4 242.5,606.7 243.2,606.8 243.9,605.7 244.6,609.0 245.3,607.8 246.0,605.9 246.7,609.2 247.4,610.0 248.1,611.9 248.8,610.9 249.5,615.6 250.2,617.2 250.9,615.2 251.6,617.4 252.3,619.9 253.0,620.9 253.7,627.4 254.4,627.0 255.1,627.1 255.8,628.6 256.5,630.8 257.2,635.8 257.9,632.2 258.6,633.6 259.3,635.2 260.0,647.1 260.7,636.1 261.4,629.4 262.1,630.0 262.8,641.0 263.5,626.5 264.2,621.6 264.9,625.4 265.6,621.8 266.3,621.9 267.0,619.9 267.7,620.0 268.4,622.1 269.1,622.7 269.8,622.0 270.5,623.5 271.2,623.7 271.9,623.5 272.6,626.0 273.3,626.6 274.0,626.4 274.7,629.0 275.4,631.0 276.1,630.2 276.8,630.2 277.5,632.8 278.2,635.5 278.9,632.2 279.6,633.0 280.3,633.5 281.0,636.5 281.7,631.5 282.4,636.0 283.1,638.1 283.8,635.0 284.5,639.7 285.2,638.6 285.9,637.4 286.6,639.9 287.3,638.0 288.0,641.0 288.7,646.6 289.4,642.9 290.1,649.1 290.8,646.8 291.5,650.0 292.2,649.5 292.9,646.2 293.6,648.8 294.3,649.8 295.0,647.1 295.7,646.4 296.4,649.1 297.1,646.9 297.8,644.7 298.5,646.2 299.2,648.6 299.9,645.8 300.6,655.5 301.3,648.5 302.0,645.4 302.7,642.9 303.4,642.1 304.1,644.0 304.8,645.2 305.5,643.6 306.2,649.0 306.9,641.8 307.6,643.8 308.3,658.0 309.0,644.1 309.7,643.1 310.4,643.3 311.1,645.9 311.8,645.5 312.5,646.5 313.2,650.1 313.9,649.1 314.6,654.1 315.3,650.0 316.0,646.8 316.7,648.9 317.4,647.7 318.1,645.4 318.8,648.1 319.5,644.3 320.2,639.7 320.9,646.6 321.6,644.4 322.3,648.5 323.0,645.0 323.7,644.4 324.4,649.7 325.1,645.3 325.8,648.0 326.5,650.6 327.2,648.5 327.9,648.5 328.6,649.2 329.3,650.9 330.0,648.2 330.7,651.1 331.4,651.4 332.1,654.9 332.8,650.5 333.5,649.8 334.2,653.1 334.9,651.4 335.6,652.9 336.3,652.8 337.0,654.9 337.7,651.9 338.4,653.1 339.1,648.9 339.8,652.1 340.5,671.7 341.2,653.0 341.9,653.2 342.6,652.5 343.3,655.9 344.0,655.5 344.7,653.2 345.4,656.9 346.1,656.5 346.8,657.8 347.5,655.6 348.2,660.3 348.9,658.3 349.6,657.7 350.3,657.3 351.0,658.2 351.7,660.5 352.4,658.8 353.1,661.6 353.8,661.1 354.5,662.8 355.2,662.2 355.9,661.0 356.6,658.0 357.3,662.3 358.0,663.3 358.7,662.1 359.4,662.8 360.1,660.9 360.8,661.0 361.5,659.9 362.2,664.0 362.9,661.8 363.6,660.5 364.3,659.0 365.0,661.1 365.7,663.9 366.4,662.1 367.1,659.9 367.8,663.7 368.5,663.6 369.2,662.8 369.9,662.4 370.6,663.0 371.3,660.6 372.0,659.8 372.7,655.8 373.4,658.7 374.1,655.2 374.8,657.7 375.5,649.9 376.2,654.3 376.9,654.3 377.6,651.5 378.3,652.4 379.0,652.5 379.7,651.7 380.4,649.2 381.1,649.4 381.8,658.4 382.5,651.0 383.2,648.4 383.9,648.3 384.6,649.3 385.3,651.4 386.0,648.4 386.7,648.6 387.4,651.9 388.1,650.4 388.8,652.0 389.5,653.9 390.2,655.3 390.9,653.2 391.6,657.3 392.3,653.3 393.0,658.2 393.7,654.1 394.4,654.4 395.1,657.7 395.8,655.5 396.5,654.6 397.2,655.0 397.9,656.4 398.6,655.3 399.3,655.1 400.0,656.8 400.7,653.4 401.4,653.6 402.1,653.3 402.8,656.1 403.5,655.5 404.2,655.8 404.9,654.8 405.6,656.0 406.3,659.2 407.0,658.4 407.7,662.0 408.4,663.2 409.1,662.0 409.8,664.6 410.5,664.5 411.2,667.9 411.9,669.5 412.6,664.8 413.3,665.0 414.0,661.0 414.7,665.5 415.4,665.2 416.1,663.3 416.8,666.7 417.5,662.6 418.2,665.0 418.9,665.7 419.6,663.3 420.3,667.2 421.0,667.6 421.7,663.2 422.4,663.3 423.1,666.9 423.8,665.9 424.5,663.8 425.2,665.5 425.9,665.9 426.6,665.9 427.3,667.7 428.0,672.5 428.7,669.5 429.4,668.9 430.1,667.7 430.4,700.5" fill="#dfdfdf"/>
<path d="M410.5,634 V668 M418.5,634 V668 M424.5,634 V668 M393,640 V660 M398,645 V660 M322.5,632 V652 M326.5,628 V650 M330.5,636 V652 M333.5,630 V652 M338.5,634 V655 M342.5,640 V656" stroke="#e6e6e6" stroke-width="1"/>
<polyline points="84.3,612.9 93.8,615.9 105.8,620.2 113.8,618.8 121.8,619.8 123.8,614.9 129.8,613.5 137.7,613.9 139.7,615.5 145.7,614.9 147.7,608.3 151.7,607.9 157.7,610.9 171.7,613.9 185.6,609.9 195.0,608.4 202.0,607.5 205.5,603.2 233.4,603.2 243.9,604.9 254.3,609.8 271.8,610.1 282.2,613.6 294.5,621.5 299.7,620.6 327.6,620.6 334.6,623.2 355.6,625.8 368.7,625.0 385.5,625.0 393.0,627.3 406.1,630.1 415.4,630.1 430.7,630.7" fill="none" stroke="#a67f58" stroke-width="4" stroke-linejoin="round" stroke-linecap="round"/>
<polyline points="84.3,661.8 95.8,664.1 107.8,658.2 117.8,659.8 127.8,656.8 139.7,658.8 155.7,662.2 173.7,662.8 179.6,658.8 187.6,657.4 195.0,657.2 205.5,656.4 215.9,661.1 226.4,659.0 243.9,659.0 254.3,656.4 264.8,658.1 282.2,660.7 292.7,662.8 306.7,666.0 313.7,661.6 327.6,666.0 341.6,664.7 361.2,663.7 374.3,663.7 387.4,667.5 398.6,668.4 406.1,671.2 415.4,668.4 424.8,670.3 430.7,668.0" fill="none" stroke="#d5c49c" stroke-width="4" stroke-linejoin="round" stroke-linecap="round"/>
<polyline points="84.3,599.9 99.8,599.9 101.8,602.3 108.8,602.3 110.8,604.3 126.8,604.3 127.8,599.9 147.7,599.9 150.7,604.3 153.7,600.9 157.3,593.5 159.7,599.9 163.7,599.9 166.7,593.5 169.7,598.9 173.7,598.9 175.7,596.3 179.6,598.9 181.6,594.9 185.6,594.9 187.6,599.9 229.9,599.7 231.6,597.0 233.4,599.7 243.9,599.7 245.6,597.0 247.3,599.7 254.3,599.7 255.2,592.7 258.7,592.7 260.4,588.8 262.2,594.4 264.8,598.8 270.0,598.8 277.0,593.6 282.2,598.8 289.2,592.7 296.2,596.2 306.7,597.0 320.6,596.2 321.0,596.3 321.0,606.5 322.2,598.3 323.4,606.5 324.6,598.3 325.8,606.5 327.0,598.3 328.0,596.3 331.0,596.3 331.0,606.5 332.2,598.3 333.4,606.5 334.6,598.3 335.8,606.5 337.0,598.3 338.2,606.5 339.4,598.3 340.6,606.5 341.8,598.3 343.0,606.5 344.2,598.3 345.0,596.3" fill="none" stroke="#f0b430" stroke-width="4" stroke-linejoin="round" stroke-linecap="round"/>
<polyline points="336.3,596.3 336.8,628.5 337.3,596.3" fill="none" stroke="#f0b430" stroke-width="4" stroke-linejoin="round" stroke-linecap="round"/>
<polyline points="345.1,596.2 370.6,595.5 371.5,599.3 376.2,599.3 378.0,595.5 379.9,602.0 386.4,602.0 389.3,596.4 398.6,597.4 400.5,602.0 404.2,597.4" fill="none" stroke="#f0b430" stroke-width="4" stroke-linejoin="round" stroke-linecap="round"/>
<polyline points="371.0,596.4 371.0,599.5 372.5,598.4 374.0,599.5 375.5,598.4 376.0,596.4 380.0,596.4 380.0,602.0 381.5,598.4 383.0,602.0 384.5,598.4 386.0,596.4 399.5,596.4 399.5,602.0 401.0,598.4 402.0,596.4 404.0,596.4 404.0,599.0 405.5,598.4 407.0,599.0 408.5,598.4 409.0,596.4" fill="none" stroke="#f0b430" stroke-width="4" stroke-linejoin="round" stroke-linecap="round"/>
<polyline points="409.8,596.4 410.7,634.8 412.6,596.4 417.3,596.4 418.2,634.8 420.1,596.4 423.8,596.4 424.8,634.8 426.6,596.4 430.7,602.0" fill="none" stroke="#f0b430" stroke-width="4" stroke-linejoin="round" stroke-linecap="round"/>
<path d="M84.5,569.5 V700.5 H430.5 V569.5" fill="none" stroke="#606060" stroke-width="1"/>
<path d="M84.5,569.5 h4 M84.5,591.5 h4 M84.5,613.5 h4 M84.5,635.5 h4 M84.5,656.5 h4 M84.5,678.5 h4 M84.5,700.5 h4 M430.5,569.5 h-4 M430.5,595.5 h-4 M430.5,621.5 h-4 M430.5,648.5 h-4 M430.5,674.5 h-4 M430.5,700.5 h-4 M84.5,700.5 v-4 M113.5,700.5 v-4 M141.5,700.5 v-4 M170.5,700.5 v-4 M199.5,700.5 v-4 M227.5,700.5 v-4 M256.5,700.5 v-4 M285.5,700.5 v-4 M313.5,700.5 v-4 M342.5,700.5 v-4 M371.5,700.5 v-4 M399.5,700.5 v-4 M428.5,700.5 v-4 " stroke="#606060" stroke-width="1" fill="none"/>
<text x="72.2" y="574.8" text-anchor="end" class="ax">30000</text>
<text x="72.2" y="596.6" text-anchor="end" class="ax">25000</text>
<text x="72.2" y="618.5" text-anchor="end" class="ax">20000</text>
<text x="72.2" y="640.3" text-anchor="end" class="ax">15000</text>
<text x="72.2" y="662.1" text-anchor="end" class="ax">10000</text>
<text x="72.2" y="684.0" text-anchor="end" class="ax">5000</text>
<text x="72.2" y="705.8" text-anchor="end" class="ax">0</text>
<text x="443.5" y="574.8" class="ax">10000</text>
<text x="443.5" y="601.0" class="ax">8000</text>
<text x="443.5" y="627.2" class="ax">6000</text>
<text x="443.5" y="653.4" class="ax">4000</text>
<text x="443.5" y="679.6" class="ax">2000</text>
<text x="443.5" y="705.8" class="ax">0</text>
<text transform="translate(88.0,718) rotate(-45)" text-anchor="end" class="ax">23/06</text>
<text transform="translate(116.7,718) rotate(-45)" text-anchor="end" class="ax">23/08</text>
<text transform="translate(145.3,718) rotate(-45)" text-anchor="end" class="ax">23/10</text>
<text transform="translate(174.0,718) rotate(-45)" text-anchor="end" class="ax">23/12</text>
<text transform="translate(202.6,718) rotate(-45)" text-anchor="end" class="ax">24/02</text>
<text transform="translate(231.3,718) rotate(-45)" text-anchor="end" class="ax">24/04</text>
<text transform="translate(260.0,718) rotate(-45)" text-anchor="end" class="ax">24/06</text>
<text transform="translate(288.6,718) rotate(-45)" text-anchor="end" class="ax">24/08</text>
<text transform="translate(317.3,718) rotate(-45)" text-anchor="end" class="ax">24/10</text>
<text transform="translate(345.9,718) rotate(-45)" text-anchor="end" class="ax">24/12</text>
<text transform="translate(374.6,718) rotate(-45)" text-anchor="end" class="ax">25/02</text>
<text transform="translate(403.3,718) rotate(-45)" text-anchor="end" class="ax">25/04</text>
<text transform="translate(431.9,718) rotate(-45)" text-anchor="end" class="ax">25/06</text>
<rect x="136" y="496" width="34" height="7.5" fill="#dfdfdf"/>
<path d="M137,518.5 H169" stroke="#a67f58" stroke-width="4.5" stroke-linecap="round"/>
<path d="M137,536.9 H169" stroke="#d5c49c" stroke-width="4.5" stroke-linecap="round"/>
<path d="M137,555.3 H169" stroke="#f0b430" stroke-width="4.5" stroke-linecap="round"/>
<polygon points="625.5,695.5 625.5,647.0 626.2,647.8 626.9,650.4 627.6,649.3 628.3,646.6 629.0,648.9 629.7,648.3 630.4,649.5 631.1,647.5 631.8,650.1 632.5,649.6 633.2,650.9 633.9,648.8 634.6,648.6 635.3,649.0 636.0,658.4 636.7,657.4 637.4,665.8 638.1,671.4 638.8,678.6 639.5,672.0 640.2,665.1 640.9,652.1 641.6,650.1 642.3,650.7 643.0,645.0 643.7,646.0 644.4,643.4 645.1,644.2 645.8,639.0 646.5,640.2 647.2,639.7 647.9,636.4 648.6,638.4 649.3,636.2 650.0,636.1 650.7,634.9 651.4,631.2 652.1,630.4 652.8,630.4 653.5,630.9 654.2,639.2 654.9,627.4 655.6,629.2 656.3,636.5 657.0,644.4 657.7,652.4 658.4,652.1 659.1,653.2 659.8,648.1 660.5,646.7 661.2,645.9 661.9,642.2 662.6,640.1 663.3,637.8 664.0,636.0 664.7,630.5 665.4,631.2 666.1,626.1 666.8,624.0 667.5,633.0 668.2,640.8 668.9,649.4 669.6,653.8 670.3,652.9 671.0,652.7 671.7,650.3 672.4,652.5 673.1,649.2 673.8,647.9 674.5,651.5 675.2,648.0 675.9,646.0 676.6,649.2 677.3,645.7 678.0,646.8 678.7,643.7 679.4,643.8 680.1,649.7 680.8,641.1 681.5,642.2 682.2,643.2 682.9,644.2 683.6,646.2 684.3,641.5 685.0,644.1 685.7,641.8 686.4,642.3 687.1,640.4 687.8,640.3 688.5,641.0 689.2,644.5 689.9,641.8 690.6,640.7 691.3,643.1 692.0,641.5 692.7,641.4 693.4,642.5 694.1,641.6 694.8,640.7 695.5,640.5 696.2,640.3 696.9,641.8 697.6,641.2 698.3,640.6 699.0,641.0 699.7,639.1 700.4,638.4 701.1,633.8 701.8,635.3 702.5,631.5 703.2,629.5 703.9,628.0 704.6,625.1 705.3,622.7 706.0,623.5 706.7,622.6 707.4,621.7 708.1,624.0 708.8,621.7 709.5,626.5 710.2,624.6 710.9,625.3 711.6,628.7 712.3,628.5 713.0,625.8 713.7,626.3 714.4,626.8 715.1,627.5 715.8,625.0 716.5,625.3 717.2,626.6 717.9,625.3 718.6,625.8 719.3,622.1 720.0,616.3 720.7,613.2 721.4,607.4 722.1,609.1 722.8,610.7 723.5,607.0 724.2,609.6 724.9,608.8 725.6,606.9 726.3,606.5 727.0,606.1 727.7,604.4 728.4,604.7 729.1,605.1 729.8,611.7 730.5,607.1 731.2,605.5 731.9,608.0 732.6,606.3 733.3,607.5 734.0,608.7 734.7,608.6 735.4,608.6 736.1,609.2 736.8,608.1 737.5,608.0 738.2,608.5 738.9,610.0 739.6,608.7 740.3,611.3 741.0,609.1 741.7,604.9 742.4,608.2 743.1,611.0 743.8,612.9 744.5,608.2 745.2,607.7 745.9,610.5 746.6,610.1 747.3,609.3 748.0,608.2 748.7,608.8 749.4,607.2 750.1,603.8 750.8,605.6 751.5,604.0 752.2,602.9 752.9,603.2 753.6,601.5 754.3,596.9 755.0,601.9 755.7,599.1 756.4,595.5 757.1,593.0 757.8,591.7 758.5,587.6 759.2,587.5 759.9,584.7 760.6,582.4 761.3,579.9 762.0,578.8 762.7,579.7 763.4,578.6 764.1,576.2 764.8,574.0 765.5,574.4 766.2,578.3 766.9,581.3 767.6,579.0 768.3,592.2 769.0,601.2 769.7,604.7 770.4,606.8 771.1,605.7 771.8,606.7 772.5,610.0 773.2,612.1 773.9,611.5 774.6,615.0 775.3,613.5 776.0,618.1 776.7,617.3 777.4,618.8 778.1,620.6 778.8,621.5 779.5,624.8 780.2,626.6 780.9,625.8 781.6,626.1 782.3,626.1 783.0,627.6 783.7,626.7 784.4,624.7 785.1,623.0 785.8,621.2 786.5,620.0 787.2,621.5 787.9,614.3 788.6,615.3 789.3,613.1 790.0,609.5 790.7,610.0 791.4,607.3 792.1,608.4 792.8,606.9 793.5,610.9 794.2,610.3 794.9,612.2 795.6,612.3 796.3,612.0 797.0,612.6 797.7,614.5 798.4,613.3 799.1,614.5 799.8,616.7 800.5,619.6 801.2,621.7 801.9,625.0 802.6,624.4 803.3,628.1 804.0,626.6 804.7,626.8 805.4,624.8 806.1,625.5 806.8,622.6 807.5,619.9 808.2,619.8 808.9,618.1 809.6,615.8 810.3,614.5 811.0,612.2 811.7,615.6 812.4,610.8 813.1,610.5 813.8,606.3 814.5,605.1 815.2,606.1 815.9,606.8 816.6,608.7 817.3,607.1 818.0,609.8 818.7,611.7 819.4,609.3 820.1,612.3 820.8,610.6 821.5,613.0 822.2,613.7 822.9,616.3 823.6,614.6 824.3,617.1 825.0,619.6 825.7,618.1 826.4,621.1 827.1,620.8 827.8,621.3 828.5,623.3 829.2,623.6 829.9,626.3 830.6,624.9 831.3,625.1 832.0,623.4 832.7,623.5 833.4,624.3 834.1,621.4 834.8,626.7 835.5,623.9 836.2,623.6 836.9,624.7 837.6,626.6 838.3,627.3 839.0,625.8 839.7,627.9 840.4,628.3 841.1,628.1 841.8,630.7 842.5,631.6 843.2,630.6 843.9,635.1 844.6,632.6 845.3,636.0 846.0,635.4 846.7,636.8 847.4,636.9 848.1,638.7 848.8,636.2 849.5,637.6 850.2,639.8 850.9,636.9 851.6,637.8 852.3,638.7 853.0,637.1 853.7,638.4 854.4,637.0 855.1,638.8 855.8,638.1 856.5,636.9 857.2,640.1 857.9,638.2 858.6,638.1 859.3,637.4 860.0,638.1 860.7,638.7 861.4,639.2 862.1,640.5 862.8,637.5 863.5,638.8 864.2,641.0 864.9,639.8 865.6,640.2 866.3,641.8 867.0,640.0 867.7,639.6 868.4,638.4 869.1,643.8 869.8,638.7 870.5,635.8 871.2,636.9 871.9,634.1 872.6,636.5 873.3,635.4 874.0,633.7 874.7,632.8 875.4,630.4 876.1,633.2 876.8,631.8 877.5,631.9 878.2,633.7 878.9,632.3 879.6,632.8 880.3,633.1 881.0,632.7 881.7,638.0 882.4,635.0 883.1,635.2 883.8,637.3 884.5,632.4 885.2,636.9 885.9,637.4 886.6,636.5 887.3,639.0 888.0,636.3 888.7,639.6 889.4,641.3 890.1,637.7 890.8,638.2 891.5,639.4 892.2,639.1 892.9,637.8 893.6,638.6 894.3,644.2 895.0,635.3 895.7,636.5 896.4,634.5 897.1,632.9 897.8,632.0 898.5,636.0 899.2,634.0 899.9,636.2 900.6,631.2 901.3,632.1 902.0,632.4 902.7,631.2 903.4,631.5 904.1,630.5 904.8,628.9 905.5,626.2 906.2,627.4 906.9,630.3 907.6,628.5 908.3,628.8 909.0,625.6 909.7,625.6 910.4,624.0 911.1,624.8 911.8,623.6 912.5,623.3 913.2,624.1 913.9,619.9 914.6,621.1 915.3,617.5 916.0,620.1 916.7,618.3 917.4,619.0 918.1,619.6 918.8,621.7 919.5,619.8 920.2,625.0 920.9,618.8 921.6,620.9 922.3,619.7 923.0,620.4 923.7,621.2 924.4,622.3 925.1,620.9 925.8,623.3 926.5,625.4 927.2,621.7 927.9,631.4 928.6,627.7 929.3,624.8 930.0,627.0 930.7,625.0 931.4,627.9 932.1,627.6 932.8,629.1 933.5,628.1 934.2,635.8 934.9,629.6 935.6,629.6 936.3,630.0 937.0,630.9 937.7,630.1 938.4,631.7 939.1,632.8 939.8,629.6 940.5,633.2 941.2,632.3 941.9,632.1 942.6,633.2 943.3,635.3 944.0,636.8 944.7,639.6 945.4,638.9 946.1,643.3 946.8,642.3 947.5,645.6 948.2,647.5 948.9,645.9 949.6,650.3 950.3,653.0 951.0,650.7 951.7,653.1 952.4,648.1 953.1,643.3 953.8,637.9 954.5,632.4 955.2,629.0 955.9,624.8 956.6,623.1 957.3,624.5 958.0,623.3 958.7,622.2 959.4,619.8 960.1,622.6 960.8,621.3 961.5,616.2 962.2,617.1 962.9,617.5 963.6,618.9 964.3,618.9 965.0,616.5 965.7,616.8 966.4,622.7 967.1,614.4 967.8,617.4 968.5,616.8 969.2,618.0 969.9,618.2 970.6,617.3 971.3,618.1 972.0,620.2 972.7,621.5 973.4,622.1 974.1,625.0 974.8,628.2 975.5,624.4 976.2,626.7 976.9,628.1 977.6,629.3 977.8,695.5" fill="#dfdfdf"/>
<polyline points="625.5,629.8 633.8,627.8 635.8,623.4 638.8,623.4 639.4,611.8 643.8,611.4 644.8,607.9 649.8,604.9 654.8,603.9 656.8,597.9 659.8,587.9 668.8,587.9 670.8,599.5 674.7,599.5 679.7,596.3 684.7,593.9 699.7,591.9 705.7,582.9 718.6,582.5 720.6,594.9 729.6,594.3 735.0,593.5 753.0,592.9 757.0,591.5 764.9,591.9 767.9,594.9 768.9,601.8 772.9,601.8 774.9,605.8 780.9,604.2 786.9,603.4 804.8,604.2 806.8,601.4 824.8,603.4 825.8,619.8 843.7,619.8 845.7,616.8 849.7,618.8 853.7,615.8 895.0,616.2 906.0,615.8 925.9,615.4 945.9,614.8 949.9,612.2 953.8,612.2 956.8,614.2 973.8,614.2 975.4,619.8 978.8,620.8" fill="none" stroke="#a67f58" stroke-width="4.3" stroke-linejoin="round" stroke-linecap="round"/>
<polyline points="625.5,647.8 625.5,647.4 627.0,646.9 628.5,646.3 630.0,645.3 631.5,644.4 633.0,643.9 634.5,642.9 635.8,642.2 636.0,641.0 637.5,636.5 638.8,633.8 639.0,630.7 640.4,615.8 640.5,616.0 642.0,624.2 642.8,627.8 643.5,628.8 645.0,629.4 646.5,630.8 647.8,631.8 648.0,632.4 649.5,631.3 651.0,629.8 652.5,628.8 654.0,628.1 654.8,627.8 655.5,622.4 657.0,610.6 657.8,603.9 658.5,604.3 660.0,605.0 661.5,605.8 662.8,605.9 663.0,606.8 664.5,611.4 665.8,615.8 666.0,616.0 667.5,616.8 669.0,616.9 670.5,617.0 672.0,617.4 673.5,617.6 673.7,617.8 675.0,616.9 676.5,616.4 677.7,614.8 678.0,615.3 679.5,614.6 681.0,614.2 682.5,613.9 684.0,613.7 685.5,614.4 687.0,614.9 688.5,614.8 689.7,614.2 690.0,614.5 691.5,613.8 693.0,613.5 694.5,613.4 696.0,613.3 697.5,613.2 699.0,612.8 700.5,611.9 702.0,611.3 703.5,611.2 705.0,611.2 706.5,610.7 708.0,609.9 709.5,609.8 711.0,610.3 712.5,610.1 713.7,609.8 714.0,609.8 715.5,610.7 717.0,611.4 718.5,611.7 718.6,611.8 720.0,620.2 721.5,629.7 721.6,629.8 723.0,631.6 724.5,632.8 726.0,633.7 727.5,634.3 727.6,634.2 729.0,633.6 730.5,633.0 732.0,632.5 733.5,632.2 735.0,631.8 735.0,632.1 736.5,632.4 738.0,632.2 739.5,631.7 741.0,631.2 742.5,630.7 744.0,630.4 745.5,630.4 747.0,630.8 747.0,630.6 748.5,631.1 750.0,631.6 751.5,632.1 753.0,632.5 754.5,633.5 756.0,634.8 757.0,634.8 757.5,635.9 759.0,637.7 760.5,639.6 762.0,642.1 763.5,645.1 764.9,647.3 765.0,647.4 766.5,645.9 768.0,644.4 769.5,643.4 771.0,642.2 772.5,640.8 772.9,641.3 774.0,639.4 775.5,638.1 777.0,636.6 778.5,635.4 780.0,634.7 781.5,633.3 782.9,631.8 783.0,632.0 784.5,634.3 786.0,636.5 787.5,638.9 789.0,641.3 789.9,642.7 790.5,642.7 792.0,642.5 793.5,642.1 795.0,641.7 796.5,641.1 798.0,640.8 798.8,640.7 799.5,639.9 801.0,637.6 802.5,634.8 802.8,633.8 804.0,633.9 805.5,634.6 807.0,635.7 808.5,635.7 810.0,636.0 810.8,636.8 811.5,638.1 813.0,640.7 814.5,642.7 814.8,643.7 816.0,642.8 817.5,642.5 819.0,641.5 820.5,640.4 820.8,640.7 822.0,642.7 823.5,645.3 825.0,647.5 826.5,650.2 827.8,652.7 828.0,652.7 829.5,652.4 831.0,652.0 832.5,651.5 834.0,651.1 835.5,650.9 837.0,650.2 838.5,649.1 838.7,649.7 840.0,647.9 841.5,646.6 843.0,645.1 844.5,644.1 844.7,643.7 846.0,643.4 847.5,642.3 849.0,642.1 850.5,642.1 852.0,641.5 853.5,640.9 854.7,640.7 855.0,640.6 856.5,639.8 858.0,638.8 859.5,638.3 860.7,637.8 861.0,638.4 862.5,638.6 864.0,638.2 865.5,638.6 867.0,639.5 868.5,639.8 870.0,639.7 870.7,639.8 871.5,640.3 873.0,641.5 874.5,642.3 876.0,642.8 876.6,643.7 877.5,643.1 879.0,642.5 880.5,641.7 882.0,641.3 883.5,640.8 885.0,640.4 886.5,640.2 888.0,640.0 888.6,639.8 889.5,639.1 891.0,637.8 892.5,636.7 894.0,635.8 894.0,635.6 895.5,636.9 897.0,638.5 898.5,639.7 900.0,640.7 901.5,642.4 902.0,642.7 903.0,643.7 904.5,644.0 906.0,644.0 907.5,644.5 909.0,645.1 910.0,644.7 910.5,645.7 912.0,647.2 913.5,648.1 915.0,648.8 915.9,650.1 916.5,650.2 918.0,650.2 919.5,648.4 919.9,647.7 921.0,647.6 922.5,647.6 924.0,647.4 925.5,647.5 927.0,648.0 928.5,648.4 929.9,647.7 930.0,648.0 931.5,646.5 933.0,645.0 934.5,643.4 935.9,642.7 936.0,642.1 937.5,642.1 939.0,642.2 940.5,641.5 942.0,640.7 943.5,640.9 943.9,640.7 945.0,639.0 946.5,635.4 947.9,631.8 948.0,631.9 949.5,631.4 951.0,630.8 951.8,630.8 952.5,632.4 954.0,636.0 955.5,639.0 957.0,642.8 957.8,645.7 958.5,645.2 960.0,645.0 961.5,645.0 963.0,645.4 963.8,644.7 964.5,646.4 966.0,647.6 967.5,648.8 967.8,649.7 969.0,648.7 970.5,648.2 972.0,647.4 973.5,647.2 973.8,647.3 975.0,648.4 976.5,649.1 978.0,649.2 978.8,649.7" fill="none" stroke="#d5c49c" stroke-width="4.3" stroke-linejoin="round" stroke-linecap="round"/>
<path d="M625.5,557.5 V695.5 H978.5 V557.5" fill="none" stroke="#606060" stroke-width="1"/>
<path d="M625.5,557.5 h4 M625.5,585.5 h4 M625.5,612.5 h4 M625.5,640.5 h4 M625.5,667.5 h4 M625.5,695.5 h4 M978.5,557.5 h-4 M978.5,580.5 h-4 M978.5,603.5 h-4 M978.5,626.5 h-4 M978.5,649.5 h-4 M978.5,672.5 h-4 M978.5,695.5 h-4 M625.5,695.5 v-4 M644.5,695.5 v-4 M662.5,695.5 v-4 M681.5,695.5 v-4 M700.5,695.5 v-4 M718.5,695.5 v-4 M737.5,695.5 v-4 M755.5,695.5 v-4 M774.5,695.5 v-4 M793.5,695.5 v-4 M811.5,695.5 v-4 M830.5,695.5 v-4 M849.5,695.5 v-4 M867.5,695.5 v-4 M886.5,695.5 v-4 M904.5,695.5 v-4 M923.5,695.5 v-4 M942.5,695.5 v-4 M960.5,695.5 v-4 " stroke="#606060" stroke-width="1" fill="none"/>
<text x="612.5" y="562.8" text-anchor="end" class="ax">25000</text>
<text x="612.5" y="590.4" text-anchor="end" class="ax">20000</text>
<text x="612.5" y="618.0" text-anchor="end" class="ax">15000</text>
<text x="612.5" y="645.6" text-anchor="end" class="ax">10000</text>
<text x="612.5" y="673.2" text-anchor="end" class="ax">5000</text>
<text x="612.5" y="700.8" text-anchor="end" class="ax">0</text>
<text x="992" y="562.8" class="ax">12000</text>
<text x="992" y="585.8" class="ax">10000</text>
<text x="992" y="608.8" class="ax">8000</text>
<text x="992" y="631.8" class="ax">6000</text>
<text x="992" y="654.8" class="ax">4000</text>
<text x="992" y="677.8" class="ax">2000</text>
<text x="992" y="700.8" class="ax">0</text>
<text transform="translate(630.5,704.5) rotate(-90)" text-anchor="end" class="ax">20/09</text>
<text transform="translate(649.1,704.5) rotate(-90)" text-anchor="end" class="ax">20/12</text>
<text transform="translate(667.8,704.5) rotate(-90)" text-anchor="end" class="ax">21/03</text>
<text transform="translate(686.4,704.5) rotate(-90)" text-anchor="end" class="ax">21/06</text>
<text transform="translate(705.0,704.5) rotate(-90)" text-anchor="end" class="ax">21/09</text>
<text transform="translate(723.6,704.5) rotate(-90)" text-anchor="end" class="ax">21/12</text>
<text transform="translate(742.3,704.5) rotate(-90)" text-anchor="end" class="ax">22/03</text>
<text transform="translate(760.9,704.5) rotate(-90)" text-anchor="end" class="ax">22/06</text>
<text transform="translate(779.5,704.5) rotate(-90)" text-anchor="end" class="ax">22/09</text>
<text transform="translate(798.2,704.5) rotate(-90)" text-anchor="end" class="ax">22/12</text>
<text transform="translate(816.8,704.5) rotate(-90)" text-anchor="end" class="ax">23/03</text>
<text transform="translate(835.4,704.5) rotate(-90)" text-anchor="end" class="ax">23/06</text>
<text transform="translate(854.1,704.5) rotate(-90)" text-anchor="end" class="ax">23/09</text>
<text transform="translate(872.7,704.5) rotate(-90)" text-anchor="end" class="ax">23/12</text>
<text transform="translate(891.3,704.5) rotate(-90)" text-anchor="end" class="ax">24/03</text>
<text transform="translate(910.0,704.5) rotate(-90)" text-anchor="end" class="ax">24/06</text>
<text transform="translate(928.6,704.5) rotate(-90)" text-anchor="end" class="ax">24/09</text>
<text transform="translate(947.2,704.5) rotate(-90)" text-anchor="end" class="ax">24/12</text>
<text transform="translate(965.8,704.5) rotate(-90)" text-anchor="end" class="ax">25/03</text>
<rect x="691" y="499" width="35.5" height="7.5" fill="#dfdfdf"/>
<path d="M691.5,520.6 H726.5" stroke="#a67f58" stroke-width="4.5" stroke-linecap="round"/>
<path d="M691.5,539 H726.5" stroke="#d5c49c" stroke-width="4.5" stroke-linecap="round"/>
<text y="73.0" class="lg"><tspan class="c" x="189.6 204.5"><tspan class="c">锦纶</tspan></tspan><tspan x="219.0">6FDY-</tspan><tspan class="c" x="262.7 277.6"><tspan class="c">尼龙</tspan></tspan><tspan x="292.1">6</tspan><tspan class="c" x="300.9 315.8 330.7 345.6 360.5 375.4"><tspan class="c">价差（右轴）</tspan></tspan></text>
<text y="92.7" class="lg"><tspan class="c" x="189.6 204.5"><tspan class="c">锦纶</tspan></tspan><tspan x="219.0">6FDY(70D/24F</tspan><tspan class="c" x="320.3 335.2 350.1"><tspan class="c">，江浙</tspan></tspan><tspan x="364.5">)</tspan></text>
<text y="112.5" class="lg"><tspan class="c" x="189.6 204.5"><tspan class="c">尼龙</tspan></tspan><tspan x="219.0">6(</tspan><tspan class="c" x="232.7 247.6 262.5 277.4 292.3 307.2 322.1"><tspan class="c">优级高速纺半光</tspan></tspan><tspan x="336.6">,</tspan><tspan class="c" x="341.2 356.1"><tspan class="c">华东</tspan></tspan><tspan x="370.6">)</tspan></text>
<text y="71.9" class="lg"><tspan class="c" x="734.8 749.6"><tspan class="c">尼龙</tspan></tspan><tspan x="764.1">66-</tspan><tspan class="c" x="786.2 801.1 816.0 830.9 845.8"><tspan class="c">己二酸价差</tspan></tspan></text>
<text y="93.1" class="lg"><tspan class="c" x="734.8 749.6"><tspan class="c">尼龙</tspan></tspan><tspan x="764.1">66(</tspan><tspan class="c" x="786.2 801.1"><tspan class="c">神马</tspan></tspan><tspan x="815.6">EPR27,</tspan><tspan class="c" x="867.7 882.6"><tspan class="c">华东</tspan></tspan><tspan x="897.1">)</tspan></text>
<text y="114.3" class="lg"><tspan class="c" x="734.8 749.6 764.5"><tspan class="c">己二酸</tspan></tspan></text>
<text y="504.3" class="lg"><tspan class="c" x="174.5 189.4"><tspan class="c">尼龙</tspan></tspan><tspan x="203.9">66-</tspan><tspan class="c" x="226.0 240.9 255.8"><tspan class="c">己二酸</tspan></tspan><tspan x="270.3">-</tspan><tspan class="c" x="275.7 290.6 305.5 320.4 335.3 350.2 365.1 380.0 394.9"><tspan class="c">己二胺价差（右轴）</tspan></tspan></text>
<text y="522.5" class="lg"><tspan class="c" x="174.5 189.4"><tspan class="c">尼龙</tspan></tspan><tspan x="203.9">66(</tspan><tspan class="c" x="226.0 240.9"><tspan class="c">神马</tspan></tspan><tspan x="255.4">EPR27,</tspan><tspan class="c" x="307.5 322.4"><tspan class="c">华东</tspan></tspan><tspan x="336.9">)</tspan></text>
<text y="540.9" class="lg"><tspan class="c" x="174.5 189.4 204.3"><tspan class="c">己二酸</tspan></tspan></text>
<text y="559.2" class="lg"><tspan class="c" x="174.5 189.4 204.3"><tspan class="c">己二胺</tspan></tspan><tspan x="218.8">(</tspan><tspan class="c" x="224.2 239.1"><tspan class="c">国内</tspan></tspan><tspan x="253.6">)</tspan></text>
<text y="507.5" class="lg"><tspan class="c" x="731.9 746.8 761.6 776.5"><tspan class="c">腈纶短纤</tspan></tspan><tspan x="791.0">-</tspan><tspan class="c" x="796.4 811.3 826.2 841.1 856.0 870.9 885.8 900.7 915.6"><tspan class="c">丙烯腈价差（右轴）</tspan></tspan></text>
<text y="526.0" class="lg"><tspan class="c" x="731.9 746.8 761.6 776.5"><tspan class="c">腈纶短纤</tspan></tspan><tspan x="791.0">(1.5D/38mm,</tspan><tspan class="c" x="878.1 893.0"><tspan class="c">华东</tspan></tspan><tspan x="907.5">)</tspan></text>
<text y="544.5" class="lg"><tspan class="c" x="731.9 746.8 761.6"><tspan class="c">丙烯腈</tspan></tspan></text>
<text y="349.2" class="srt"><tspan class="c" x="5.7 20.7 35.7 50.7 62.7">资料来源：</tspan><tspan x="80.7">Wind</tspan><tspan class="c" x="114.2 129.2 144.2 159.2 174.2 189.2 204.2 219.2 234.2 249.2 264.2 279.2 294.2 309.2">、钢联、百川盈孚、德邦研究所</tspan></text>
<text y="349.2" class="srt"><tspan class="c" x="547.7 562.7 577.7 592.7 604.7">资料来源：</tspan><tspan x="622.7">Wind</tspan><tspan class="c" x="656.2 671.2 686.2 701.2 716.2 731.2 746.2 761.2 776.2 791.2 806.2">、百川盈孚、德邦研究所</tspan></text>
<text y="785.0" class="srt"><tspan class="c" x="5.7 20.7 35.7 50.7 62.7">资料来源：</tspan><tspan x="80.7">Wind</tspan><tspan class="c" x="114.2">、</tspan><tspan x="129.2">chemical book</tspan><tspan class="c" x="223.2 238.2 253.2 268.2 283.2 298.2 313.2 328.2 343.2 358.2 373.2">、百川盈孚、德邦研究所</tspan></text>
<text y="785.0" class="srt"><tspan class="c" x="547.7 562.7 577.7 592.7 604.7">资料来源：</tspan><tspan x="622.7">Wind</tspan><tspan class="c" x="656.2 671.2 686.2 701.2 716.2 731.2">、德邦研究所</tspan></text>
<text y="29.3" class="ttl"><tspan class="c" x="6.5">图</tspan><tspan x="28.4">92</tspan><tspan class="c" x="44.6">：</tspan><tspan class="c" x="67.5 86.3">锦纶</tspan><tspan x="107.4">6FDY-</tspan><tspan class="c" x="157.5 175.3">尼龙</tspan><tspan x="199.3">6</tspan><tspan class="c" x="214.2 232.0">价差</tspan><tspan class="c" x="250.4">（</tspan><tspan class="c" x="268.5">元</tspan><tspan x="284.8">/</tspan><tspan class="c" x="289.5">吨</tspan><tspan class="c" x="310.5">）</tspan></text>
<text y="29.3" class="ttl"><tspan class="c" x="549.0">图</tspan><tspan x="569.7">93</tspan><tspan class="c" x="586.6">：</tspan><tspan class="c" x="608.3 627.3">尼龙</tspan><tspan x="648.7">66-</tspan><tspan class="c" x="676.0 693.9 711.7 729.6 747.4">己二酸价差</tspan><tspan class="c" x="765.5">（</tspan><tspan class="c" x="783.8">元</tspan><tspan x="802.0">/</tspan><tspan class="c" x="807.1">吨</tspan><tspan class="c" x="825.1">）</tspan></text>
<text y="465.3" class="ttl"><tspan class="c" x="6.4">图</tspan><tspan x="27.7">94</tspan><tspan class="c" x="44.9">：</tspan><tspan class="c" x="66.4 84.2">尼龙</tspan><tspan x="107.3">66-</tspan><tspan class="c" x="134.2 151.4 168.6">己二酸</tspan><tspan x="188.3">-</tspan><tspan class="c" x="194.8 212.7 230.6 248.5 266.4">己二胺价差</tspan><tspan class="c" x="283.8">（</tspan><tspan class="c" x="301.5">元</tspan><tspan x="317.3">/</tspan><tspan class="c" x="323.9">吨</tspan><tspan class="c" x="344.7">）</tspan></text>
<text y="465.3" class="ttl"><tspan class="c" x="548.2">图</tspan><tspan x="569.1">95</tspan><tspan class="c" x="586.8">：</tspan><tspan class="c" x="609.2 627.1 645.1 663.0">腈纶短纤</tspan><tspan x="679.5">-</tspan><tspan class="c" x="687.1 705.2 723.4 741.5 759.7">丙烯腈价差</tspan><tspan class="c" x="776.8">（</tspan><tspan class="c" x="795.7">元</tspan><tspan x="811.4">/</tspan><tspan class="c" x="817.5">吨</tspan><tspan class="c" x="839.6">）</tspan></text>
</svg>
</body></html>
